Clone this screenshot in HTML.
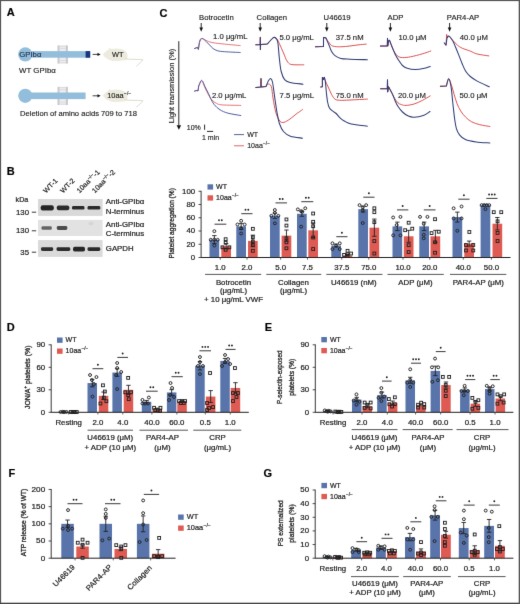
<!DOCTYPE html><html><head><meta charset="utf-8"><title>Figure</title><style>html,body{margin:0;padding:0;background:#fff;}body{width:520px;height:604px;overflow:hidden;font-family:"Liberation Sans",sans-serif;}svg{display:block;}text{font-family:"Liberation Sans",sans-serif;stroke:#222;stroke-width:0.20px;}text.b{stroke:#2a2a2a;stroke-width:0.32px;}.n text{stroke-width:0.14px;}</style></head><body><svg width="520" height="604" viewBox="0 0 520 604" font-family="Liberation Sans, sans-serif" font-size="7" fill="#222">
<rect x="0.00" y="0.00" width="520.00" height="604.00" fill="#fff"/>
<defs><filter id="soft" filterUnits="userSpaceOnUse" x="0" y="0" width="520" height="604" color-interpolation-filters="sRGB"><feConvolveMatrix order="3" kernelMatrix="0.00524 0.06192 0.00524 0.06192 0.73137 0.06192 0.00524 0.06192 0.00524" edgeMode="duplicate" preserveAlpha="true"/></filter></defs>
<g filter="url(#soft)">
<rect x="0.00" y="0.00" width="520.00" height="604.00" fill="#fff"/>
<text font-weight="bold" fill="#000" font-size="11.0" transform="translate(6.70 15.90) scale(1.0 1)">A</text>
<text font-weight="bold" fill="#000" font-size="11.0" transform="translate(159.60 16.80) scale(1.0 1)">C</text>
<text font-weight="bold" fill="#000" font-size="11.0" transform="translate(6.80 174.90) scale(1.0 1)">B</text>
<text font-weight="bold" fill="#000" font-size="11.0" transform="translate(6.70 330.60) scale(1.0 1)">D</text>
<text font-weight="bold" fill="#000" font-size="11.0" transform="translate(264.80 330.60) scale(1.0 1)">E</text>
<text font-weight="bold" fill="#000" font-size="11.0" transform="translate(8.60 476.60) scale(1.0 1)">F</text>
<text font-weight="bold" fill="#000" font-size="11.0" transform="translate(263.40 476.80) scale(1.0 1)">G</text>
<g class="n">
<rect x="59.60" y="45.40" width="6.20" height="18.20" fill="#eeeef0"/>
<line x1="59.60" y1="46.20" x2="65.80" y2="46.20" stroke="#d2d2d6" stroke-width="0.7"/>
<line x1="59.60" y1="48.40" x2="65.80" y2="48.40" stroke="#d2d2d6" stroke-width="0.7"/>
<line x1="59.60" y1="60.60" x2="65.80" y2="60.60" stroke="#d2d2d6" stroke-width="0.7"/>
<line x1="59.60" y1="62.80" x2="65.80" y2="62.80" stroke="#d2d2d6" stroke-width="0.7"/>
<rect x="57.50" y="45.40" width="2.10" height="18.20" fill="#c9c9cd"/>
<rect x="65.80" y="45.40" width="2.10" height="18.20" fill="#c9c9cd"/>
<rect x="25.00" y="51.10" width="65.20" height="6.60" fill="#93bedb"/>
<circle cx="25.3" cy="54.4" r="7.1" fill="#93bedb"/>
<rect x="85.60" y="51.10" width="4.60" height="6.60" fill="#1a3580"/>
<line x1="92.60" y1="54.40" x2="98.20" y2="54.40" stroke="#111" stroke-width="0.8"/>
<path d="M97.5 52.8 L100.6 54.4 L97.5 56.0 Z" stroke="none" stroke-width="1" fill="#111"/>
<text fill="#1d3d66" font-size="7.5" transform="translate(19.30 57.20) scale(1.03 1)">GPIbα</text>
<g transform="translate(102.80 54.60)"><path d="M0 0 C1.5 -1.8 4 -4.2 6.2 -5 L5.8 -6.9 L8.8 -5.6 C13 -6.6 19.5 -6.2 22.6 -3.6 C25.2 -1.4 25.4 3.2 23.6 5 C20.6 6.6 14 6.6 9 6.1 C5 5.6 2 3 0 0 Z" fill="#ecebdd"/><path d="M22.5 4.2 C28 5.2 34.5 4.4 40.2 5.2 C38.6 7.2 36.4 9.2 33.8 11.4" fill="none" stroke="#dddccd" stroke-width="1.0" stroke-linecap="round"/></g>
<text font-size="7.4" transform="translate(112.00 57.10) scale(1.0 1)">WT</text>
<text font-size="7.5" transform="translate(19.10 72.60) scale(1.05 1)">WT GPIbα</text>
<rect x="59.60" y="86.80" width="6.20" height="18.20" fill="#eeeef0"/>
<line x1="59.60" y1="87.60" x2="65.80" y2="87.60" stroke="#d2d2d6" stroke-width="0.7"/>
<line x1="59.60" y1="89.80" x2="65.80" y2="89.80" stroke="#d2d2d6" stroke-width="0.7"/>
<line x1="59.60" y1="102.00" x2="65.80" y2="102.00" stroke="#d2d2d6" stroke-width="0.7"/>
<line x1="59.60" y1="104.20" x2="65.80" y2="104.20" stroke="#d2d2d6" stroke-width="0.7"/>
<rect x="57.50" y="86.80" width="2.10" height="18.20" fill="#c9c9cd"/>
<rect x="65.80" y="86.80" width="2.10" height="18.20" fill="#c9c9cd"/>
<rect x="25.00" y="92.50" width="60.60" height="6.60" fill="#93bedb"/>
<circle cx="25.3" cy="95.8" r="7.1" fill="#93bedb"/>
<line x1="92.60" y1="95.80" x2="98.20" y2="95.80" stroke="#111" stroke-width="0.8"/>
<path d="M97.5 94.2 L100.6 95.8 L97.5 97.4 Z" stroke="none" stroke-width="1" fill="#111"/>
<g transform="translate(102.80 95.60)"><path d="M0 0 C1.5 -1.8 4 -4.2 6.2 -5 L5.8 -6.9 L8.8 -5.6 C13 -6.6 19.5 -6.2 22.6 -3.6 C25.2 -1.4 25.4 3.2 23.6 5 C20.6 6.6 14 6.6 9 6.1 C5 5.6 2 3 0 0 Z" fill="#ecebdd"/><path d="M22.5 4.2 C28 5.2 34.5 4.4 40.2 5.2 C38.6 7.2 36.4 9.2 33.8 11.4" fill="none" stroke="#dddccd" stroke-width="1.0" stroke-linecap="round"/></g>
<text transform="translate(107.20 98.40) scale(1.0 1)" font-size="7.4">10aa<tspan font-size="5.03" dy="-3.11" dx="0.3">−/−</tspan></text>
<text font-size="7.6" transform="translate(20.00 115.50) scale(1.0 1)">Deletion of amino acids 709 to 718</text>
<text font-size="7.5" transform="translate(199.00 19.90) scale(1.03 1)">Botrocetin</text>
<text font-size="7.5" transform="translate(256.60 19.90) scale(1.03 1)">Collagen</text>
<text font-size="7.5" transform="translate(323.60 19.90) scale(1.03 1)">U46619</text>
<text font-size="7.5" transform="translate(387.60 19.90) scale(1.03 1)">ADP</text>
<text font-size="7.5" transform="translate(446.80 19.90) scale(1.03 1)">PAR4-AP</text>
<line x1="201.20" y1="23.00" x2="201.20" y2="28.30" stroke="#111" stroke-width="0.9"/>
<path d="M199.40 27.60 L201.20 31.80 L203.00 27.60 Z" stroke="none" stroke-width="1" fill="#111"/>
<line x1="260.20" y1="23.00" x2="260.20" y2="28.30" stroke="#111" stroke-width="0.9"/>
<path d="M258.40 27.60 L260.20 31.80 L262.00 27.60 Z" stroke="none" stroke-width="1" fill="#111"/>
<line x1="326.80" y1="23.00" x2="326.80" y2="28.30" stroke="#111" stroke-width="0.9"/>
<path d="M325.00 27.60 L326.80 31.80 L328.60 27.60 Z" stroke="none" stroke-width="1" fill="#111"/>
<line x1="390.40" y1="23.00" x2="390.40" y2="28.30" stroke="#111" stroke-width="0.9"/>
<path d="M388.60 27.60 L390.40 31.80 L392.20 27.60 Z" stroke="none" stroke-width="1" fill="#111"/>
<line x1="449.60" y1="23.00" x2="449.60" y2="28.30" stroke="#111" stroke-width="0.9"/>
<path d="M447.80 27.60 L449.60 31.80 L451.40 27.60 Z" stroke="none" stroke-width="1" fill="#111"/>
<text font-size="7.5" transform="translate(213.00 39.10) scale(1.03 1)">1.0 μg/mL</text>
<text font-size="7.5" transform="translate(279.40 40.10) scale(1.03 1)">5.0 μg/mL</text>
<text font-size="7.5" transform="translate(335.70 39.80) scale(1.03 1)">37.5 nM</text>
<text font-size="7.5" transform="translate(398.50 39.80) scale(1.03 1)">10.0 μM</text>
<text font-size="7.5" transform="translate(459.80 39.80) scale(1.03 1)">40.0 μM</text>
<text font-size="7.5" transform="translate(211.90 97.90) scale(1.03 1)">2.0 μg/mL</text>
<text font-size="7.5" transform="translate(279.60 98.40) scale(1.03 1)">7.5 μg/mL</text>
<text font-size="7.5" transform="translate(335.70 97.70) scale(1.03 1)">75.0 nM</text>
<text font-size="7.5" transform="translate(397.90 97.90) scale(1.03 1)">20.0 μM</text>
<text font-size="7.5" transform="translate(459.50 98.10) scale(1.03 1)">50.0 μM</text>
<path d="M194.60 48.50 L197.40 47.40 L198.40 49.40 L199.40 42.50 L200.40 39.40 C200.75 39.27 201.35 38.33 202.50 38.60 C203.65 38.87 205.55 40.32 207.30 41.00 C209.05 41.68 210.12 42.18 213.00 42.70 C215.88 43.22 220.07 43.62 224.60 44.10 C229.13 44.58 237.60 45.35 240.20 45.60" stroke="#e06666" stroke-width="0.9" fill="none" stroke-linejoin="round" stroke-linecap="round"/>
<path d="M194.60 48.50 L197.40 47.40 L198.40 49.40 L199.40 42.50 L200.40 39.40 C200.75 39.27 201.53 38.25 202.50 38.60 C203.47 38.95 205.02 40.43 206.20 41.50 C207.38 42.57 208.47 43.83 209.60 45.00 C210.73 46.17 211.65 47.53 213.00 48.50 C214.35 49.47 215.77 50.27 217.70 50.80 C219.63 51.33 220.85 51.42 224.60 51.70 C228.35 51.98 237.60 52.37 240.20 52.50" stroke="#46569a" stroke-width="0.95" fill="none" stroke-linejoin="round" stroke-linecap="round"/>
<path d="M194.60 91.10 L197.00 90.40 L198.00 91.00 L198.70 86.00 C198.85 85.70 199.18 85.03 199.60 84.20 C200.02 83.37 200.72 81.43 201.20 81.00 C201.68 80.57 201.87 80.47 202.50 81.60 C203.13 82.73 204.00 85.60 205.00 87.80 C206.00 90.00 207.35 92.77 208.50 94.80 C209.65 96.83 210.57 98.57 211.90 100.00 C213.23 101.43 214.77 102.58 216.50 103.40 C218.23 104.22 218.25 104.57 222.30 104.90 C226.35 105.23 237.72 105.32 240.80 105.40" stroke="#e06666" stroke-width="0.9" fill="none" stroke-linejoin="round" stroke-linecap="round"/>
<path d="M194.60 91.10 L197.00 90.40 L198.00 91.00 L198.70 86.00 C199.08 85.12 200.32 81.43 201.00 80.70 C201.68 79.97 202.13 80.60 202.80 81.60 C203.47 82.60 204.05 84.70 205.00 86.70 C205.95 88.70 207.53 91.58 208.50 93.60 C209.47 95.62 209.85 96.97 210.80 98.80 C211.75 100.63 212.67 102.77 214.20 104.60 C215.73 106.43 217.68 108.37 220.00 109.80 C222.32 111.23 224.63 112.25 228.10 113.20 C231.57 114.15 238.68 115.12 240.80 115.50" stroke="#46569a" stroke-width="0.95" fill="none" stroke-linejoin="round" stroke-linecap="round"/>
<path d="M255.80 44.80 L260.20 44.60 L260.30 37.20 L260.40 49.60 L260.60 44.60 L267.30 44.00 C267.83 43.42 269.43 41.58 270.50 40.50 C271.57 39.42 272.62 37.75 273.70 37.50 C274.78 37.25 275.95 37.75 277.00 39.00 C278.05 40.25 278.92 42.67 280.00 45.00 C281.08 47.33 282.33 50.33 283.50 53.00 C284.67 55.67 285.83 59.12 287.00 61.00 C288.17 62.88 289.00 63.67 290.50 64.30 C292.00 64.93 293.78 64.72 296.00 64.80 C298.22 64.88 302.50 64.80 303.80 64.80" stroke="#d94a4a" stroke-width="0.95" fill="none" stroke-linejoin="round" stroke-linecap="round"/>
<path d="M255.80 44.80 L260.20 44.60 L260.30 37.20 L260.40 49.60 L260.60 44.60 L267.30 44.00 C267.83 43.42 269.43 41.58 270.50 40.50 C271.57 39.42 272.75 37.82 273.70 37.50 C274.65 37.18 275.50 37.68 276.20 38.60 C276.90 39.52 277.37 39.63 277.90 43.00 C278.43 46.37 278.85 54.05 279.40 58.80 C279.95 63.55 280.33 68.03 281.20 71.50 C282.07 74.97 283.13 77.78 284.60 79.60 C286.07 81.42 286.93 81.63 290.00 82.40 C293.07 83.17 300.83 83.90 303.00 84.20" stroke="#2e3c74" stroke-width="1.05" fill="none" stroke-linejoin="round" stroke-linecap="round"/>
<path d="M255.80 87.50 L260.90 87.00 L261.00 78.60 L261.10 87.00 L266.00 86.50 C266.33 86.08 267.12 84.00 268.00 84.00 C268.88 84.00 270.47 84.17 271.30 86.50 C272.13 88.83 272.22 93.58 273.00 98.00 C273.78 102.42 274.83 109.13 276.00 113.00 C277.17 116.87 278.67 119.65 280.00 121.20 C281.33 122.75 282.33 122.67 284.00 122.30 C285.67 121.93 288.00 120.35 290.00 119.00 C292.00 117.65 293.92 115.77 296.00 114.20 C298.08 112.63 301.42 110.37 302.50 109.60" stroke="#d94a4a" stroke-width="0.95" fill="none" stroke-linejoin="round" stroke-linecap="round"/>
<path d="M255.80 87.50 L260.90 87.00 L261.00 78.60 L261.10 87.00 L266.00 86.50 C266.38 85.58 267.55 82.33 268.30 81.00 C269.05 79.67 269.80 78.33 270.50 78.50 C271.20 78.67 271.78 78.75 272.50 82.00 C273.22 85.25 274.03 92.83 274.80 98.00 C275.57 103.17 276.33 108.75 277.10 113.00 C277.87 117.25 278.33 120.42 279.40 123.50 C280.47 126.58 281.67 129.38 283.50 131.50 C285.33 133.62 287.23 135.08 290.40 136.20 C293.57 137.32 300.48 137.87 302.50 138.20" stroke="#2e3c74" stroke-width="1.05" fill="none" stroke-linejoin="round" stroke-linecap="round"/>
<path d="M315.50 46.80 L323.50 46.40 L323.50 37.60 L325.80 37.80 C326.38 38.67 328.13 41.62 329.30 43.00 C330.47 44.38 330.88 45.47 332.80 46.10 C334.72 46.73 337.93 46.82 340.80 46.80 C343.67 46.78 347.13 46.32 350.00 46.00 C352.87 45.68 355.30 45.22 358.00 44.90 C360.70 44.58 364.83 44.23 366.20 44.10" stroke="#d94a4a" stroke-width="0.95" fill="none" stroke-linejoin="round" stroke-linecap="round"/>
<path d="M315.50 46.80 L323.50 46.40 L323.50 37.60 L325.80 37.80 C326.38 39.13 328.33 43.50 329.30 45.80 C330.27 48.10 330.65 49.95 331.60 51.60 C332.55 53.25 333.47 54.55 335.00 55.70 C336.53 56.85 338.30 57.92 340.80 58.50 C343.30 59.08 345.57 59.00 350.00 59.20 C354.43 59.40 364.50 59.62 367.40 59.70" stroke="#2e3c74" stroke-width="1.05" fill="none" stroke-linejoin="round" stroke-linecap="round"/>
<path d="M320.70 87.00 L322.40 86.80 L322.40 77.40 L323.40 79.50 L324.20 77.20 C324.38 77.78 324.63 79.07 325.30 80.70 C325.97 82.33 327.15 84.70 328.20 87.00 C329.25 89.30 330.47 92.48 331.60 94.50 C332.73 96.52 333.65 98.13 335.00 99.10 C336.35 100.07 337.20 100.15 339.70 100.30 C342.20 100.45 345.38 100.20 350.00 100.00 C354.62 99.80 364.50 99.25 367.40 99.10" stroke="#d94a4a" stroke-width="0.95" fill="none" stroke-linejoin="round" stroke-linecap="round"/>
<path d="M320.70 87.00 L322.40 86.80 L322.40 77.40 L323.40 79.50 L324.20 77.20 C324.38 77.87 324.93 78.60 325.30 81.20 C325.67 83.80 326.02 89.33 326.40 92.80 C326.78 96.27 327.12 99.50 327.60 102.00 C328.08 104.50 328.43 106.27 329.30 107.80 C330.17 109.33 331.65 110.25 332.80 111.20 C333.95 112.15 335.05 112.43 336.20 113.50 C337.35 114.57 338.35 116.35 339.70 117.60 C341.05 118.85 342.38 119.95 344.30 121.00 C346.22 122.05 347.35 123.03 351.20 123.90 C355.05 124.77 364.70 125.82 367.40 126.20" stroke="#2e3c74" stroke-width="1.05" fill="none" stroke-linejoin="round" stroke-linecap="round"/>
<path d="M380.40 46.10 L387.30 46.00 L387.50 38.30 L387.80 46.00 L388.40 41.50 C388.58 41.32 388.97 39.68 389.50 40.40 C390.03 41.12 390.77 43.83 391.60 45.80 C392.43 47.77 393.45 50.47 394.50 52.20 C395.55 53.93 396.57 55.30 397.90 56.20 C399.23 57.10 400.38 57.50 402.50 57.60 C404.62 57.70 407.32 57.42 410.60 56.80 C413.88 56.18 418.83 54.87 422.20 53.90 C425.57 52.93 429.37 51.48 430.80 51.00" stroke="#d94a4a" stroke-width="0.95" fill="none" stroke-linejoin="round" stroke-linecap="round"/>
<path d="M380.40 46.10 L387.30 46.00 L387.50 38.30 L387.80 46.00 L388.40 41.50 C388.58 41.32 388.97 39.68 389.50 40.40 C390.03 41.12 390.68 43.55 391.60 45.80 C392.52 48.05 393.77 51.40 395.00 53.90 C396.23 56.40 397.75 58.87 399.00 60.80 C400.25 62.73 401.13 64.25 402.50 65.50 C403.87 66.75 405.08 67.63 407.20 68.30 C409.32 68.97 412.32 69.50 415.20 69.50 C418.08 69.50 422.00 68.82 424.50 68.30 C427.00 67.78 429.25 66.72 430.20 66.40" stroke="#2e3c74" stroke-width="1.05" fill="none" stroke-linejoin="round" stroke-linecap="round"/>
<path d="M380.60 88.80 L387.30 88.70 L387.50 79.80 L387.70 91.90 L388.50 86.70 C389.12 87.85 391.20 91.68 392.20 93.60 C393.20 95.52 393.55 96.67 394.50 98.20 C395.45 99.73 396.75 101.73 397.90 102.80 C399.05 103.87 400.05 104.17 401.40 104.60 C402.75 105.03 403.88 105.50 406.00 105.40 C408.12 105.30 411.40 104.82 414.10 104.00 C416.80 103.18 419.52 101.85 422.20 100.50 C424.88 99.15 428.87 96.67 430.20 95.90" stroke="#d94a4a" stroke-width="0.95" fill="none" stroke-linejoin="round" stroke-linecap="round"/>
<path d="M380.60 88.80 L387.30 88.70 L387.50 79.80 L387.70 91.90 L388.50 86.70 C389.12 87.85 391.12 91.30 392.20 93.60 C393.28 95.90 394.05 98.38 395.00 100.50 C395.95 102.62 396.65 104.38 397.90 106.30 C399.15 108.22 400.77 110.37 402.50 112.00 C404.23 113.63 406.37 115.22 408.30 116.10 C410.23 116.98 411.60 117.40 414.10 117.30 C416.60 117.20 420.65 116.47 423.30 115.50 C425.95 114.53 428.88 112.17 430.00 111.50" stroke="#2e3c74" stroke-width="1.05" fill="none" stroke-linejoin="round" stroke-linecap="round"/>
<path d="M444.30 43.00 L446.00 45.20 L446.70 34.40 L447.40 38.00 C447.67 37.68 448.07 35.65 449.00 36.10 C449.93 36.55 451.57 39.17 453.00 40.70 C454.43 42.23 456.07 44.05 457.60 45.30 C459.13 46.55 460.08 47.23 462.20 48.20 C464.32 49.17 467.80 50.13 470.30 51.10 C472.80 52.07 474.12 53.20 477.20 54.00 C480.28 54.80 486.87 55.58 488.80 55.90" stroke="#d94a4a" stroke-width="0.95" fill="none" stroke-linejoin="round" stroke-linecap="round"/>
<path d="M444.30 43.00 L446.00 45.20 L447.00 38.00 C447.33 37.68 448.00 35.55 449.00 36.10 C450.00 36.65 451.95 39.57 453.00 41.30 C454.05 43.03 454.33 44.20 455.30 46.50 C456.27 48.80 457.65 52.22 458.80 55.10 C459.95 57.98 461.05 61.10 462.20 63.80 C463.35 66.50 464.35 69.18 465.70 71.30 C467.05 73.42 468.38 74.87 470.30 76.50 C472.22 78.13 474.03 79.38 477.20 81.10 C480.37 82.82 487.28 85.85 489.30 86.80" stroke="#2e3c74" stroke-width="1.05" fill="none" stroke-linejoin="round" stroke-linecap="round"/>
<path d="M440.40 86.30 L446.40 86.00 C446.78 84.80 447.82 78.82 448.70 78.80 C449.58 78.78 450.80 83.32 451.70 85.90 C452.60 88.48 453.20 91.32 454.10 94.30 C455.00 97.28 456.00 101.02 457.10 103.80 C458.20 106.58 459.32 108.82 460.70 111.00 C462.08 113.18 463.62 115.12 465.40 116.90 C467.18 118.68 469.00 120.40 471.40 121.70 C473.80 123.00 476.72 123.90 479.80 124.70 C482.88 125.50 488.22 126.20 489.90 126.50" stroke="#d94a4a" stroke-width="0.95" fill="none" stroke-linejoin="round" stroke-linecap="round"/>
<path d="M440.40 86.30 L446.40 86.00 C446.78 84.80 447.92 78.62 448.70 78.80 C449.48 78.98 450.40 82.93 451.10 87.10 C451.80 91.27 452.30 98.43 452.90 103.80 C453.50 109.17 454.10 115.12 454.70 119.30 C455.30 123.48 455.70 126.32 456.50 128.90 C457.30 131.48 458.02 133.02 459.50 134.80 C460.98 136.58 462.62 138.40 465.40 139.60 C468.18 140.80 472.12 141.43 476.20 142.00 C480.28 142.57 487.62 142.83 489.90 143.00" stroke="#2e3c74" stroke-width="1.05" fill="none" stroke-linejoin="round" stroke-linecap="round"/>
<line x1="178.80" y1="41.20" x2="178.80" y2="125.50" stroke="#111" stroke-width="0.9"/>
<path d="M176.6 125.2 L178.85 129.7 L181.1 125.2 Z" stroke="none" stroke-width="1" fill="#111"/>
<text text-anchor="middle" font-size="7.4" transform="translate(174.10 86.00) rotate(-90) scale(1.017 1)">Light transmission (%)</text>
<text transform="translate(186.80 130.00) scale(1.0 1)">10%</text>
<line x1="204.60" y1="124.60" x2="204.60" y2="129.80" stroke="#111" stroke-width="0.9"/>
<line x1="207.00" y1="131.40" x2="213.20" y2="131.40" stroke="#111" stroke-width="0.9"/>
<text transform="translate(202.00 139.60) scale(1.0 1)">1 min</text>
<line x1="234.00" y1="134.60" x2="244.00" y2="134.60" stroke="#55639a" stroke-width="1.0"/>
<text transform="translate(247.20 136.90) scale(1.0 1)">WT</text>
<line x1="234.00" y1="145.80" x2="244.00" y2="145.80" stroke="#d86a6a" stroke-width="1.0"/>
<text transform="translate(247.20 147.80) scale(1.0 1)" font-size="7.0">10aa<tspan font-size="4.76" dy="-2.94" dx="0.3">−/−</tspan></text>
</g>
<text font-size="6.9" transform="translate(46.00 193.40) rotate(-45) scale(1.05 1)">WT-1</text>
<text font-size="6.9" transform="translate(63.00 193.40) rotate(-45) scale(1.05 1)">WT-2</text>
<text font-size="6.9" transform="translate(79.40 193.40) rotate(-45) scale(1.05 1)">10aa<tspan font-size="4.6" dy="-2.6">−/−</tspan><tspan dy="2.6">-1</tspan></text>
<text font-size="6.9" transform="translate(94.80 193.40) rotate(-45) scale(1.05 1)">10aa<tspan font-size="4.6" dy="-2.6">−/−</tspan><tspan dy="2.6">-2</tspan></text>
<defs><filter id="bl" x="-30%" y="-60%" width="160%" height="220%"><feGaussianBlur stdDeviation="0.55"/></filter></defs>
<rect x="38.00" y="199.00" width="64.60" height="16.90" fill="#d9d9d9"/>
<rect x="38.00" y="219.90" width="64.60" height="16.10" fill="#e2e2e2"/>
<rect x="38.00" y="240.10" width="64.60" height="16.80" fill="#dadada"/>
<rect x="40.70" y="205.20" width="13.10" height="5.20" rx="2.00" fill="#1e1e1e" opacity="0.95" filter="url(#bl)"/>
<rect x="56.80" y="205.40" width="12.50" height="4.80" rx="1.85" fill="#1e1e1e" opacity="0.92" filter="url(#bl)"/>
<rect x="72.00" y="206.00" width="12.50" height="3.60" rx="1.38" fill="#1e1e1e" opacity="0.92" filter="url(#bl)"/>
<rect x="87.50" y="206.00" width="12.80" height="3.60" rx="1.38" fill="#1e1e1e" opacity="0.92" filter="url(#bl)"/>
<rect x="41.50" y="226.30" width="10.30" height="3.40" rx="1.31" fill="#3a3a3a" opacity="0.75" filter="url(#bl)"/>
<rect x="56.80" y="226.10" width="10.50" height="3.80" rx="1.46" fill="#333" opacity="0.85" filter="url(#bl)"/>
<ellipse cx="91" cy="223.5" rx="2.5" ry="2" fill="#d6d6d6" filter="url(#bl)"/>
<rect x="41.00" y="247.30" width="12.20" height="3.60" rx="1.38" fill="#1e1e1e" opacity="0.9" filter="url(#bl)"/>
<rect x="56.50" y="247.20" width="13.80" height="3.80" rx="1.46" fill="#1e1e1e" opacity="0.92" filter="url(#bl)"/>
<rect x="73.00" y="246.80" width="12.00" height="4.60" rx="1.77" fill="#1e1e1e" opacity="0.95" filter="url(#bl)"/>
<rect x="87.50" y="247.20" width="12.80" height="3.80" rx="1.46" fill="#1e1e1e" opacity="0.92" filter="url(#bl)"/>
<text transform="translate(15.60 202.40) scale(1.02 1)">kDa</text>
<text text-anchor="end" transform="translate(29.00 214.60) scale(1.12 1)">130</text>
<line x1="31.80" y1="212.20" x2="36.20" y2="212.20" stroke="#222" stroke-width="0.9"/>
<text text-anchor="end" transform="translate(29.00 233.20) scale(1.12 1)">130</text>
<line x1="31.80" y1="230.80" x2="36.20" y2="230.80" stroke="#222" stroke-width="0.9"/>
<text text-anchor="end" transform="translate(29.00 254.60) scale(1.12 1)">35</text>
<line x1="31.80" y1="252.20" x2="36.20" y2="252.20" stroke="#222" stroke-width="0.9"/>
<text transform="translate(105.80 204.40) scale(1.12 1)">Anti-GPIbα</text>
<text transform="translate(105.80 214.00) scale(1.12 1)">N-terminus</text>
<text transform="translate(105.80 226.80) scale(1.12 1)">Anti-GPIbα</text>
<text transform="translate(105.80 236.40) scale(1.12 1)">C-terminus</text>
<text transform="translate(105.80 251.20) scale(1.12 1)">GAPDH</text>
<line x1="201.10" y1="190.85" x2="201.10" y2="257.90" stroke="#222" stroke-width="0.9"/>
<line x1="198.50" y1="257.50" x2="201.10" y2="257.50" stroke="#222" stroke-width="0.8"/>
<text text-anchor="end" transform="translate(195.10 259.95) scale(1.12 1)">0</text>
<line x1="198.50" y1="244.25" x2="201.10" y2="244.25" stroke="#222" stroke-width="0.8"/>
<text text-anchor="end" transform="translate(195.10 246.70) scale(1.12 1)">20</text>
<line x1="198.50" y1="231.00" x2="201.10" y2="231.00" stroke="#222" stroke-width="0.8"/>
<text text-anchor="end" transform="translate(195.10 233.45) scale(1.12 1)">40</text>
<line x1="198.50" y1="217.75" x2="201.10" y2="217.75" stroke="#222" stroke-width="0.8"/>
<text text-anchor="end" transform="translate(195.10 220.20) scale(1.12 1)">60</text>
<line x1="198.50" y1="204.50" x2="201.10" y2="204.50" stroke="#222" stroke-width="0.8"/>
<text text-anchor="end" transform="translate(195.10 206.95) scale(1.12 1)">80</text>
<line x1="198.50" y1="191.25" x2="201.10" y2="191.25" stroke="#222" stroke-width="0.8"/>
<text text-anchor="end" transform="translate(195.10 193.70) scale(1.12 1)">100</text>
<rect x="209.50" y="239.61" width="9.70" height="17.89" fill="#5874aa"/>
<line x1="214.35" y1="235.64" x2="214.35" y2="243.59" stroke="#222" stroke-width="0.9"/>
<line x1="212.15" y1="235.64" x2="216.55" y2="235.64" stroke="#222" stroke-width="0.9"/>
<line x1="212.15" y1="243.59" x2="216.55" y2="243.59" stroke="#222" stroke-width="0.9"/>
<circle cx="214.35" cy="231.20" r="1.45" fill="none" stroke="#222" stroke-width="0.95"/>
<circle cx="210.75" cy="239.81" r="1.45" fill="none" stroke="#222" stroke-width="0.95"/>
<circle cx="217.65" cy="239.81" r="1.45" fill="none" stroke="#222" stroke-width="0.95"/>
<circle cx="214.35" cy="245.57" r="1.45" fill="none" stroke="#222" stroke-width="0.95"/>
<circle cx="214.35" cy="239.61" r="1.45" fill="none" stroke="#222" stroke-width="0.95"/>
<rect x="221.30" y="246.24" width="9.70" height="11.26" fill="#df5a52"/>
<line x1="226.15" y1="243.59" x2="226.15" y2="248.89" stroke="#222" stroke-width="0.9"/>
<line x1="223.95" y1="243.59" x2="228.35" y2="243.59" stroke="#222" stroke-width="0.9"/>
<line x1="223.95" y1="248.89" x2="228.35" y2="248.89" stroke="#222" stroke-width="0.9"/>
<rect x="224.25" y="237.81" width="2.8" height="2.8" fill="none" stroke="#222" stroke-width="0.95"/>
<rect x="224.25" y="241.33" width="2.8" height="2.8" fill="none" stroke="#222" stroke-width="0.95"/>
<rect x="221.05" y="245.90" width="2.8" height="2.8" fill="none" stroke="#222" stroke-width="0.95"/>
<rect x="227.95" y="245.90" width="2.8" height="2.8" fill="none" stroke="#222" stroke-width="0.95"/>
<rect x="224.25" y="248.41" width="2.8" height="2.8" fill="none" stroke="#222" stroke-width="0.95"/>
<line x1="220.25" y1="257.50" x2="220.25" y2="259.70" stroke="#222" stroke-width="0.7"/>
<rect x="236.30" y="226.36" width="9.70" height="31.14" fill="#5874aa"/>
<line x1="241.15" y1="223.38" x2="241.15" y2="229.34" stroke="#222" stroke-width="0.9"/>
<line x1="238.95" y1="223.38" x2="243.35" y2="223.38" stroke="#222" stroke-width="0.9"/>
<line x1="238.95" y1="229.34" x2="243.35" y2="229.34" stroke="#222" stroke-width="0.9"/>
<circle cx="241.15" cy="220.80" r="1.45" fill="none" stroke="#222" stroke-width="0.95"/>
<circle cx="237.45" cy="224.51" r="1.45" fill="none" stroke="#222" stroke-width="0.95"/>
<circle cx="244.65" cy="224.51" r="1.45" fill="none" stroke="#222" stroke-width="0.95"/>
<circle cx="241.15" cy="228.35" r="1.45" fill="none" stroke="#222" stroke-width="0.95"/>
<circle cx="241.15" cy="233.52" r="1.45" fill="none" stroke="#222" stroke-width="0.95"/>
<rect x="248.00" y="240.94" width="9.70" height="16.56" fill="#df5a52"/>
<line x1="252.85" y1="235.17" x2="252.85" y2="246.70" stroke="#222" stroke-width="0.9"/>
<line x1="250.65" y1="235.17" x2="255.05" y2="235.17" stroke="#222" stroke-width="0.9"/>
<line x1="250.65" y1="246.70" x2="255.05" y2="246.70" stroke="#222" stroke-width="0.9"/>
<rect x="251.45" y="227.41" width="2.8" height="2.8" fill="none" stroke="#222" stroke-width="0.95"/>
<rect x="251.45" y="235.83" width="2.8" height="2.8" fill="none" stroke="#222" stroke-width="0.95"/>
<rect x="251.45" y="240.07" width="2.8" height="2.8" fill="none" stroke="#222" stroke-width="0.95"/>
<rect x="251.45" y="243.58" width="2.8" height="2.8" fill="none" stroke="#222" stroke-width="0.95"/>
<rect x="251.45" y="249.41" width="2.8" height="2.8" fill="none" stroke="#222" stroke-width="0.95"/>
<line x1="247.00" y1="257.50" x2="247.00" y2="259.70" stroke="#222" stroke-width="0.7"/>
<rect x="270.00" y="215.76" width="9.70" height="41.74" fill="#5874aa"/>
<line x1="274.85" y1="213.11" x2="274.85" y2="218.41" stroke="#222" stroke-width="0.9"/>
<line x1="272.65" y1="213.11" x2="277.05" y2="213.11" stroke="#222" stroke-width="0.9"/>
<line x1="272.65" y1="218.41" x2="277.05" y2="218.41" stroke="#222" stroke-width="0.9"/>
<circle cx="274.85" cy="210.00" r="1.45" fill="none" stroke="#222" stroke-width="0.95"/>
<circle cx="274.85" cy="212.91" r="1.45" fill="none" stroke="#222" stroke-width="0.95"/>
<circle cx="271.35" cy="215.83" r="1.45" fill="none" stroke="#222" stroke-width="0.95"/>
<circle cx="278.35" cy="215.83" r="1.45" fill="none" stroke="#222" stroke-width="0.95"/>
<circle cx="274.85" cy="223.31" r="1.45" fill="none" stroke="#222" stroke-width="0.95"/>
<rect x="281.60" y="235.64" width="9.70" height="21.86" fill="#df5a52"/>
<line x1="286.45" y1="230.01" x2="286.45" y2="241.27" stroke="#222" stroke-width="0.9"/>
<line x1="284.25" y1="230.01" x2="288.65" y2="230.01" stroke="#222" stroke-width="0.9"/>
<line x1="284.25" y1="241.27" x2="288.65" y2="241.27" stroke="#222" stroke-width="0.9"/>
<rect x="285.05" y="218.07" width="2.8" height="2.8" fill="none" stroke="#222" stroke-width="0.95"/>
<rect x="285.05" y="224.17" width="2.8" height="2.8" fill="none" stroke="#222" stroke-width="0.95"/>
<rect x="285.05" y="236.89" width="2.8" height="2.8" fill="none" stroke="#222" stroke-width="0.95"/>
<rect x="285.05" y="240.93" width="2.8" height="2.8" fill="none" stroke="#222" stroke-width="0.95"/>
<rect x="285.05" y="246.89" width="2.8" height="2.8" fill="none" stroke="#222" stroke-width="0.95"/>
<line x1="280.65" y1="257.50" x2="280.65" y2="259.70" stroke="#222" stroke-width="0.7"/>
<rect x="297.00" y="213.78" width="9.70" height="43.72" fill="#5874aa"/>
<line x1="301.85" y1="211.26" x2="301.85" y2="216.29" stroke="#222" stroke-width="0.9"/>
<line x1="299.65" y1="211.26" x2="304.05" y2="211.26" stroke="#222" stroke-width="0.9"/>
<line x1="299.65" y1="216.29" x2="304.05" y2="216.29" stroke="#222" stroke-width="0.9"/>
<circle cx="297.85" cy="209.40" r="1.45" fill="none" stroke="#222" stroke-width="0.95"/>
<circle cx="301.15" cy="211.19" r="1.45" fill="none" stroke="#222" stroke-width="0.95"/>
<circle cx="305.25" cy="208.28" r="1.45" fill="none" stroke="#222" stroke-width="0.95"/>
<circle cx="302.35" cy="211.79" r="1.45" fill="none" stroke="#222" stroke-width="0.95"/>
<circle cx="301.15" cy="226.69" r="1.45" fill="none" stroke="#222" stroke-width="0.95"/>
<rect x="308.30" y="230.34" width="9.70" height="27.16" fill="#df5a52"/>
<line x1="313.15" y1="223.05" x2="313.15" y2="237.62" stroke="#222" stroke-width="0.9"/>
<line x1="310.95" y1="223.05" x2="315.35" y2="223.05" stroke="#222" stroke-width="0.9"/>
<line x1="310.95" y1="237.62" x2="315.35" y2="237.62" stroke="#222" stroke-width="0.9"/>
<rect x="311.75" y="212.11" width="2.8" height="2.8" fill="none" stroke="#222" stroke-width="0.95"/>
<rect x="311.75" y="220.39" width="2.8" height="2.8" fill="none" stroke="#222" stroke-width="0.95"/>
<rect x="311.75" y="224.83" width="2.8" height="2.8" fill="none" stroke="#222" stroke-width="0.95"/>
<rect x="311.75" y="236.09" width="2.8" height="2.8" fill="none" stroke="#222" stroke-width="0.95"/>
<rect x="311.75" y="247.62" width="2.8" height="2.8" fill="none" stroke="#222" stroke-width="0.95"/>
<line x1="307.50" y1="257.50" x2="307.50" y2="259.70" stroke="#222" stroke-width="0.7"/>
<rect x="331.30" y="245.57" width="9.70" height="11.93" fill="#5874aa"/>
<line x1="336.15" y1="244.12" x2="336.15" y2="247.03" stroke="#222" stroke-width="0.9"/>
<line x1="333.95" y1="244.12" x2="338.35" y2="244.12" stroke="#222" stroke-width="0.9"/>
<line x1="333.95" y1="247.03" x2="338.35" y2="247.03" stroke="#222" stroke-width="0.9"/>
<circle cx="332.45" cy="243.32" r="1.45" fill="none" stroke="#222" stroke-width="0.95"/>
<circle cx="339.75" cy="243.32" r="1.45" fill="none" stroke="#222" stroke-width="0.95"/>
<circle cx="336.15" cy="245.57" r="1.45" fill="none" stroke="#222" stroke-width="0.95"/>
<circle cx="332.45" cy="249.09" r="1.45" fill="none" stroke="#222" stroke-width="0.95"/>
<circle cx="339.75" cy="249.09" r="1.45" fill="none" stroke="#222" stroke-width="0.95"/>
<rect x="342.50" y="255.51" width="9.70" height="1.99" fill="#df5a52"/>
<line x1="347.35" y1="254.58" x2="347.35" y2="256.44" stroke="#222" stroke-width="0.9"/>
<line x1="345.15" y1="254.58" x2="349.55" y2="254.58" stroke="#222" stroke-width="0.9"/>
<rect x="346.15" y="249.41" width="2.8" height="2.8" fill="none" stroke="#222" stroke-width="0.95"/>
<rect x="342.65" y="253.52" width="2.8" height="2.8" fill="none" stroke="#222" stroke-width="0.95"/>
<rect x="346.15" y="252.92" width="2.8" height="2.8" fill="none" stroke="#222" stroke-width="0.95"/>
<rect x="349.65" y="252.12" width="2.8" height="2.8" fill="none" stroke="#222" stroke-width="0.95"/>
<rect x="346.15" y="254.58" width="2.8" height="2.8" fill="none" stroke="#222" stroke-width="0.95"/>
<line x1="341.75" y1="257.50" x2="341.75" y2="259.70" stroke="#222" stroke-width="0.7"/>
<rect x="358.30" y="209.14" width="9.70" height="48.36" fill="#5874aa"/>
<line x1="363.15" y1="206.16" x2="363.15" y2="212.12" stroke="#222" stroke-width="0.9"/>
<line x1="360.95" y1="206.16" x2="365.35" y2="206.16" stroke="#222" stroke-width="0.9"/>
<line x1="360.95" y1="212.12" x2="365.35" y2="212.12" stroke="#222" stroke-width="0.9"/>
<circle cx="359.55" cy="205.16" r="1.45" fill="none" stroke="#222" stroke-width="0.95"/>
<circle cx="366.15" cy="205.16" r="1.45" fill="none" stroke="#222" stroke-width="0.95"/>
<circle cx="362.75" cy="207.42" r="1.45" fill="none" stroke="#222" stroke-width="0.95"/>
<circle cx="362.75" cy="210.33" r="1.45" fill="none" stroke="#222" stroke-width="0.95"/>
<circle cx="362.75" cy="223.05" r="1.45" fill="none" stroke="#222" stroke-width="0.95"/>
<rect x="369.50" y="227.69" width="9.70" height="29.81" fill="#df5a52"/>
<line x1="374.35" y1="219.07" x2="374.35" y2="236.30" stroke="#222" stroke-width="0.9"/>
<line x1="372.15" y1="219.07" x2="376.55" y2="219.07" stroke="#222" stroke-width="0.9"/>
<line x1="372.15" y1="236.30" x2="376.55" y2="236.30" stroke="#222" stroke-width="0.9"/>
<rect x="372.95" y="206.88" width="2.8" height="2.8" fill="none" stroke="#222" stroke-width="0.95"/>
<rect x="372.95" y="210.78" width="2.8" height="2.8" fill="none" stroke="#222" stroke-width="0.95"/>
<rect x="372.95" y="220.79" width="2.8" height="2.8" fill="none" stroke="#222" stroke-width="0.95"/>
<rect x="372.95" y="239.60" width="2.8" height="2.8" fill="none" stroke="#222" stroke-width="0.95"/>
<rect x="372.95" y="252.12" width="2.8" height="2.8" fill="none" stroke="#222" stroke-width="0.95"/>
<line x1="368.75" y1="257.50" x2="368.75" y2="259.70" stroke="#222" stroke-width="0.7"/>
<rect x="392.50" y="226.36" width="9.70" height="31.14" fill="#5874aa"/>
<line x1="397.35" y1="222.12" x2="397.35" y2="230.60" stroke="#222" stroke-width="0.9"/>
<line x1="395.15" y1="222.12" x2="399.55" y2="222.12" stroke="#222" stroke-width="0.9"/>
<line x1="395.15" y1="230.60" x2="399.55" y2="230.60" stroke="#222" stroke-width="0.9"/>
<circle cx="393.15" cy="217.49" r="1.45" fill="none" stroke="#222" stroke-width="0.95"/>
<circle cx="400.45" cy="216.89" r="1.45" fill="none" stroke="#222" stroke-width="0.95"/>
<circle cx="396.65" cy="225.04" r="1.45" fill="none" stroke="#222" stroke-width="0.95"/>
<circle cx="393.15" cy="235.37" r="1.45" fill="none" stroke="#222" stroke-width="0.95"/>
<circle cx="400.45" cy="235.37" r="1.45" fill="none" stroke="#222" stroke-width="0.95"/>
<rect x="403.80" y="236.30" width="9.70" height="21.20" fill="#df5a52"/>
<line x1="408.65" y1="230.34" x2="408.65" y2="242.26" stroke="#222" stroke-width="0.9"/>
<line x1="406.45" y1="230.34" x2="410.85" y2="230.34" stroke="#222" stroke-width="0.9"/>
<line x1="406.45" y1="242.26" x2="410.85" y2="242.26" stroke="#222" stroke-width="0.9"/>
<rect x="407.25" y="221.32" width="2.8" height="2.8" fill="none" stroke="#222" stroke-width="0.95"/>
<rect x="403.75" y="228.80" width="2.8" height="2.8" fill="none" stroke="#222" stroke-width="0.95"/>
<rect x="410.85" y="227.28" width="2.8" height="2.8" fill="none" stroke="#222" stroke-width="0.95"/>
<rect x="407.25" y="243.78" width="2.8" height="2.8" fill="none" stroke="#222" stroke-width="0.95"/>
<rect x="407.25" y="250.67" width="2.8" height="2.8" fill="none" stroke="#222" stroke-width="0.95"/>
<line x1="403.00" y1="257.50" x2="403.00" y2="259.70" stroke="#222" stroke-width="0.7"/>
<rect x="419.30" y="226.36" width="9.70" height="31.14" fill="#5874aa"/>
<line x1="424.15" y1="222.12" x2="424.15" y2="230.60" stroke="#222" stroke-width="0.9"/>
<line x1="421.95" y1="222.12" x2="426.35" y2="222.12" stroke="#222" stroke-width="0.9"/>
<line x1="421.95" y1="230.60" x2="426.35" y2="230.60" stroke="#222" stroke-width="0.9"/>
<circle cx="420.05" cy="216.89" r="1.45" fill="none" stroke="#222" stroke-width="0.95"/>
<circle cx="427.45" cy="216.89" r="1.45" fill="none" stroke="#222" stroke-width="0.95"/>
<circle cx="423.75" cy="223.78" r="1.45" fill="none" stroke="#222" stroke-width="0.95"/>
<circle cx="423.75" cy="234.78" r="1.45" fill="none" stroke="#222" stroke-width="0.95"/>
<circle cx="423.75" cy="238.29" r="1.45" fill="none" stroke="#222" stroke-width="0.95"/>
<rect x="430.50" y="236.30" width="9.70" height="21.20" fill="#df5a52"/>
<line x1="435.35" y1="230.34" x2="435.35" y2="242.26" stroke="#222" stroke-width="0.9"/>
<line x1="433.15" y1="230.34" x2="437.55" y2="230.34" stroke="#222" stroke-width="0.9"/>
<line x1="433.15" y1="242.26" x2="437.55" y2="242.26" stroke="#222" stroke-width="0.9"/>
<rect x="433.65" y="217.81" width="2.8" height="2.8" fill="none" stroke="#222" stroke-width="0.95"/>
<rect x="430.15" y="231.72" width="2.8" height="2.8" fill="none" stroke="#222" stroke-width="0.95"/>
<rect x="437.35" y="230.33" width="2.8" height="2.8" fill="none" stroke="#222" stroke-width="0.95"/>
<rect x="433.65" y="240.86" width="2.8" height="2.8" fill="none" stroke="#222" stroke-width="0.95"/>
<rect x="433.65" y="251.33" width="2.8" height="2.8" fill="none" stroke="#222" stroke-width="0.95"/>
<line x1="429.75" y1="257.50" x2="429.75" y2="259.70" stroke="#222" stroke-width="0.7"/>
<rect x="452.50" y="217.09" width="9.70" height="40.41" fill="#5874aa"/>
<line x1="457.35" y1="212.12" x2="457.35" y2="222.06" stroke="#222" stroke-width="0.9"/>
<line x1="455.15" y1="212.12" x2="459.55" y2="212.12" stroke="#222" stroke-width="0.9"/>
<line x1="455.15" y1="222.06" x2="459.55" y2="222.06" stroke="#222" stroke-width="0.9"/>
<circle cx="453.65" cy="208.28" r="1.45" fill="none" stroke="#222" stroke-width="0.95"/>
<circle cx="461.55" cy="206.49" r="1.45" fill="none" stroke="#222" stroke-width="0.95"/>
<circle cx="453.65" cy="218.41" r="1.45" fill="none" stroke="#222" stroke-width="0.95"/>
<circle cx="461.55" cy="218.41" r="1.45" fill="none" stroke="#222" stroke-width="0.95"/>
<circle cx="457.35" cy="230.80" r="1.45" fill="none" stroke="#222" stroke-width="0.95"/>
<rect x="464.30" y="243.59" width="9.70" height="13.91" fill="#df5a52"/>
<line x1="469.15" y1="241.07" x2="469.15" y2="246.11" stroke="#222" stroke-width="0.9"/>
<line x1="466.95" y1="241.07" x2="471.35" y2="241.07" stroke="#222" stroke-width="0.9"/>
<line x1="466.95" y1="246.11" x2="471.35" y2="246.11" stroke="#222" stroke-width="0.9"/>
<rect x="467.95" y="230.59" width="2.8" height="2.8" fill="none" stroke="#222" stroke-width="0.95"/>
<rect x="464.55" y="243.58" width="2.8" height="2.8" fill="none" stroke="#222" stroke-width="0.95"/>
<rect x="471.85" y="243.58" width="2.8" height="2.8" fill="none" stroke="#222" stroke-width="0.95"/>
<rect x="464.55" y="249.08" width="2.8" height="2.8" fill="none" stroke="#222" stroke-width="0.95"/>
<rect x="471.85" y="249.08" width="2.8" height="2.8" fill="none" stroke="#222" stroke-width="0.95"/>
<line x1="463.25" y1="257.50" x2="463.25" y2="259.70" stroke="#222" stroke-width="0.7"/>
<rect x="480.60" y="205.16" width="9.70" height="52.34" fill="#5874aa"/>
<line x1="485.45" y1="204.37" x2="485.45" y2="205.96" stroke="#222" stroke-width="0.9"/>
<line x1="483.25" y1="204.37" x2="487.65" y2="204.37" stroke="#222" stroke-width="0.9"/>
<circle cx="481.65" cy="205.16" r="1.45" fill="none" stroke="#222" stroke-width="0.95"/>
<circle cx="484.15" cy="205.16" r="1.45" fill="none" stroke="#222" stroke-width="0.95"/>
<circle cx="486.75" cy="205.16" r="1.45" fill="none" stroke="#222" stroke-width="0.95"/>
<circle cx="489.25" cy="205.16" r="1.45" fill="none" stroke="#222" stroke-width="0.95"/>
<circle cx="485.45" cy="209.14" r="1.45" fill="none" stroke="#222" stroke-width="0.95"/>
<rect x="492.50" y="223.71" width="9.70" height="33.79" fill="#df5a52"/>
<line x1="497.35" y1="217.49" x2="497.35" y2="229.94" stroke="#222" stroke-width="0.9"/>
<line x1="495.15" y1="217.49" x2="499.55" y2="217.49" stroke="#222" stroke-width="0.9"/>
<line x1="495.15" y1="229.94" x2="499.55" y2="229.94" stroke="#222" stroke-width="0.9"/>
<rect x="492.35" y="210.78" width="2.8" height="2.8" fill="none" stroke="#222" stroke-width="0.95"/>
<rect x="499.85" y="210.78" width="2.8" height="2.8" fill="none" stroke="#222" stroke-width="0.95"/>
<rect x="496.15" y="219.93" width="2.8" height="2.8" fill="none" stroke="#222" stroke-width="0.95"/>
<rect x="496.15" y="231.52" width="2.8" height="2.8" fill="none" stroke="#222" stroke-width="0.95"/>
<rect x="496.15" y="239.60" width="2.8" height="2.8" fill="none" stroke="#222" stroke-width="0.95"/>
<line x1="491.40" y1="257.50" x2="491.40" y2="259.70" stroke="#222" stroke-width="0.7"/>
<line x1="201.10" y1="257.50" x2="510.50" y2="257.50" stroke="#222" stroke-width="1.0"/>
<line x1="214.50" y1="224.20" x2="226.30" y2="224.20" stroke="#222" stroke-width="0.9"/>
<circle cx="219.00" cy="220.30" r="0.95" fill="#222"/>
<circle cx="221.80" cy="220.30" r="0.95" fill="#222"/>
<line x1="241.30" y1="213.70" x2="252.50" y2="213.70" stroke="#222" stroke-width="0.9"/>
<circle cx="245.50" cy="209.80" r="0.95" fill="#222"/>
<circle cx="248.30" cy="209.80" r="0.95" fill="#222"/>
<line x1="275.50" y1="202.90" x2="287.00" y2="202.90" stroke="#222" stroke-width="0.9"/>
<circle cx="279.85" cy="199.00" r="0.95" fill="#222"/>
<circle cx="282.65" cy="199.00" r="0.95" fill="#222"/>
<line x1="301.30" y1="201.70" x2="313.30" y2="201.70" stroke="#222" stroke-width="0.9"/>
<circle cx="305.90" cy="197.80" r="0.95" fill="#222"/>
<circle cx="308.70" cy="197.80" r="0.95" fill="#222"/>
<line x1="336.30" y1="236.70" x2="347.50" y2="236.70" stroke="#222" stroke-width="0.9"/>
<circle cx="341.90" cy="232.80" r="0.95" fill="#222"/>
<line x1="363.30" y1="197.20" x2="374.50" y2="197.20" stroke="#222" stroke-width="0.9"/>
<circle cx="368.90" cy="193.30" r="0.95" fill="#222"/>
<line x1="397.00" y1="209.90" x2="408.30" y2="209.90" stroke="#222" stroke-width="0.9"/>
<circle cx="402.65" cy="206.00" r="0.95" fill="#222"/>
<line x1="423.80" y1="209.90" x2="435.50" y2="209.90" stroke="#222" stroke-width="0.9"/>
<circle cx="429.65" cy="206.00" r="0.95" fill="#222"/>
<line x1="458.30" y1="199.20" x2="469.50" y2="199.20" stroke="#222" stroke-width="0.9"/>
<circle cx="463.90" cy="195.30" r="0.95" fill="#222"/>
<line x1="486.30" y1="198.40" x2="497.50" y2="198.40" stroke="#222" stroke-width="0.9"/>
<circle cx="489.10" cy="194.50" r="0.95" fill="#222"/>
<circle cx="491.90" cy="194.50" r="0.95" fill="#222"/>
<circle cx="494.70" cy="194.50" r="0.95" fill="#222"/>
<text text-anchor="middle" transform="translate(220.25 270.00) scale(1.12 1)">1.0</text>
<text text-anchor="middle" transform="translate(247.00 270.00) scale(1.12 1)">2.0</text>
<text text-anchor="middle" transform="translate(280.65 270.00) scale(1.12 1)">5.0</text>
<text text-anchor="middle" transform="translate(307.50 270.00) scale(1.12 1)">7.5</text>
<text text-anchor="middle" transform="translate(341.75 270.00) scale(1.12 1)">37.5</text>
<text text-anchor="middle" transform="translate(368.75 270.00) scale(1.12 1)">75.0</text>
<text text-anchor="middle" transform="translate(403.00 270.00) scale(1.12 1)">10.0</text>
<text text-anchor="middle" transform="translate(429.75 270.00) scale(1.12 1)">20.0</text>
<text text-anchor="middle" transform="translate(463.25 270.00) scale(1.12 1)">40.0</text>
<text text-anchor="middle" transform="translate(491.40 270.00) scale(1.12 1)">50.0</text>
<line x1="205.10" y1="274.40" x2="261.20" y2="274.40" stroke="#444" stroke-width="0.9"/>
<line x1="266.30" y1="274.40" x2="321.30" y2="274.40" stroke="#444" stroke-width="0.9"/>
<line x1="326.30" y1="274.40" x2="382.50" y2="274.40" stroke="#444" stroke-width="0.9"/>
<line x1="387.50" y1="274.40" x2="443.80" y2="274.40" stroke="#444" stroke-width="0.9"/>
<line x1="450.00" y1="274.40" x2="506.30" y2="274.40" stroke="#444" stroke-width="0.9"/>
<text text-anchor="middle" transform="translate(233.50 284.80) scale(1.12 1)">Botrocetin</text>
<text text-anchor="middle" transform="translate(233.50 293.20) scale(1.12 1)">(μg/mL)</text>
<text text-anchor="middle" transform="translate(233.50 301.60) scale(1.12 1)">+ 10 μg/mL VWF</text>
<text text-anchor="middle" transform="translate(293.50 284.80) scale(1.12 1)">Collagen</text>
<text text-anchor="middle" transform="translate(293.50 293.20) scale(1.12 1)">(μg/mL)</text>
<text text-anchor="middle" transform="translate(353.80 284.80) scale(1.12 1)">U46619 (nM)</text>
<text text-anchor="middle" transform="translate(415.50 284.80) scale(1.12 1)">ADP (μM)</text>
<text text-anchor="middle" transform="translate(478.30 284.80) scale(1.12 1)">PAR4-AP (μM)</text>
<rect x="207.50" y="184.30" width="5.60" height="5.30" fill="#5874aa"/>
<text transform="translate(216.10 188.90) scale(1.0 1)">WT</text>
<rect x="207.50" y="195.30" width="5.60" height="5.30" fill="#df5a52"/>
<text transform="translate(216.10 200.10) scale(1.0 1)" font-size="7.0">10aa<tspan font-size="4.76" dy="-2.94" dx="0.3">−/−</tspan></text>
<text text-anchor="middle" font-size="7.6" transform="translate(174.40 223.40) rotate(-90) scale(0.866 1)" class="b">Platelet aggregation (%)</text>
<line x1="51.20" y1="344.40" x2="51.20" y2="412.70" stroke="#222" stroke-width="0.9"/>
<line x1="48.60" y1="412.30" x2="51.20" y2="412.30" stroke="#222" stroke-width="0.8"/>
<text text-anchor="end" transform="translate(45.10 414.75) scale(1.12 1)">0</text>
<line x1="48.60" y1="389.80" x2="51.20" y2="389.80" stroke="#222" stroke-width="0.8"/>
<text text-anchor="end" transform="translate(45.10 392.25) scale(1.12 1)">30</text>
<line x1="48.60" y1="367.30" x2="51.20" y2="367.30" stroke="#222" stroke-width="0.8"/>
<text text-anchor="end" transform="translate(45.10 369.75) scale(1.12 1)">60</text>
<line x1="48.60" y1="344.80" x2="51.20" y2="344.80" stroke="#222" stroke-width="0.8"/>
<text text-anchor="end" transform="translate(45.10 347.25) scale(1.12 1)">90</text>
<rect x="58.80" y="411.85" width="9.50" height="0.45" fill="#5874aa"/>
<circle cx="60.55" cy="412.00" r="1.45" fill="none" stroke="#222" stroke-width="0.95"/>
<circle cx="62.55" cy="411.85" r="1.45" fill="none" stroke="#222" stroke-width="0.95"/>
<circle cx="64.55" cy="412.00" r="1.45" fill="none" stroke="#222" stroke-width="0.95"/>
<circle cx="66.55" cy="411.93" r="1.45" fill="none" stroke="#222" stroke-width="0.95"/>
<circle cx="63.55" cy="412.00" r="1.45" fill="none" stroke="#222" stroke-width="0.95"/>
<rect x="69.00" y="411.93" width="9.50" height="0.38" fill="#df5a52"/>
<rect x="69.35" y="410.60" width="2.8" height="2.8" fill="none" stroke="#222" stroke-width="0.95"/>
<rect x="71.35" y="410.53" width="2.8" height="2.8" fill="none" stroke="#222" stroke-width="0.95"/>
<rect x="73.35" y="410.60" width="2.8" height="2.8" fill="none" stroke="#222" stroke-width="0.95"/>
<rect x="75.35" y="410.60" width="2.8" height="2.8" fill="none" stroke="#222" stroke-width="0.95"/>
<rect x="72.35" y="410.60" width="2.8" height="2.8" fill="none" stroke="#222" stroke-width="0.95"/>
<line x1="68.65" y1="412.30" x2="68.65" y2="414.50" stroke="#222" stroke-width="0.7"/>
<rect x="87.50" y="383.05" width="9.50" height="29.25" fill="#5874aa"/>
<line x1="92.25" y1="379.30" x2="92.25" y2="386.80" stroke="#222" stroke-width="0.9"/>
<line x1="90.05" y1="379.30" x2="94.45" y2="379.30" stroke="#222" stroke-width="0.9"/>
<line x1="90.05" y1="386.80" x2="94.45" y2="386.80" stroke="#222" stroke-width="0.9"/>
<circle cx="90.05" cy="375.02" r="1.45" fill="none" stroke="#222" stroke-width="0.95"/>
<circle cx="96.45" cy="377.05" r="1.45" fill="none" stroke="#222" stroke-width="0.95"/>
<circle cx="93.95" cy="384.03" r="1.45" fill="none" stroke="#222" stroke-width="0.95"/>
<circle cx="92.45" cy="396.55" r="1.45" fill="none" stroke="#222" stroke-width="0.95"/>
<circle cx="91.95" cy="380.05" r="1.45" fill="none" stroke="#222" stroke-width="0.95"/>
<rect x="98.80" y="395.80" width="9.50" height="16.50" fill="#df5a52"/>
<line x1="103.55" y1="392.05" x2="103.55" y2="399.55" stroke="#222" stroke-width="0.9"/>
<line x1="101.35" y1="392.05" x2="105.75" y2="392.05" stroke="#222" stroke-width="0.9"/>
<line x1="101.35" y1="399.55" x2="105.75" y2="399.55" stroke="#222" stroke-width="0.9"/>
<rect x="101.55" y="383.90" width="2.8" height="2.8" fill="none" stroke="#222" stroke-width="0.95"/>
<rect x="103.45" y="390.13" width="2.8" height="2.8" fill="none" stroke="#222" stroke-width="0.95"/>
<rect x="99.05" y="402.13" width="2.8" height="2.8" fill="none" stroke="#222" stroke-width="0.95"/>
<rect x="104.95" y="399.80" width="2.8" height="2.8" fill="none" stroke="#222" stroke-width="0.95"/>
<rect x="102.45" y="396.28" width="2.8" height="2.8" fill="none" stroke="#222" stroke-width="0.95"/>
<line x1="97.90" y1="412.30" x2="97.90" y2="414.50" stroke="#222" stroke-width="0.7"/>
<rect x="112.40" y="372.55" width="9.50" height="39.75" fill="#5874aa"/>
<line x1="117.15" y1="368.80" x2="117.15" y2="376.30" stroke="#222" stroke-width="0.9"/>
<line x1="114.95" y1="368.80" x2="119.35" y2="368.80" stroke="#222" stroke-width="0.9"/>
<line x1="114.95" y1="376.30" x2="119.35" y2="376.30" stroke="#222" stroke-width="0.9"/>
<circle cx="117.15" cy="363.02" r="1.45" fill="none" stroke="#222" stroke-width="0.95"/>
<circle cx="117.15" cy="368.05" r="1.45" fill="none" stroke="#222" stroke-width="0.95"/>
<circle cx="116.15" cy="375.02" r="1.45" fill="none" stroke="#222" stroke-width="0.95"/>
<circle cx="121.15" cy="372.02" r="1.45" fill="none" stroke="#222" stroke-width="0.95"/>
<circle cx="117.15" cy="389.05" r="1.45" fill="none" stroke="#222" stroke-width="0.95"/>
<rect x="123.70" y="389.80" width="9.50" height="22.50" fill="#df5a52"/>
<line x1="128.45" y1="385.30" x2="128.45" y2="394.30" stroke="#222" stroke-width="0.9"/>
<line x1="126.25" y1="385.30" x2="130.65" y2="385.30" stroke="#222" stroke-width="0.9"/>
<line x1="126.25" y1="394.30" x2="130.65" y2="394.30" stroke="#222" stroke-width="0.9"/>
<rect x="126.75" y="376.48" width="2.8" height="2.8" fill="none" stroke="#222" stroke-width="0.95"/>
<rect x="123.85" y="390.88" width="2.8" height="2.8" fill="none" stroke="#222" stroke-width="0.95"/>
<rect x="129.65" y="390.88" width="2.8" height="2.8" fill="none" stroke="#222" stroke-width="0.95"/>
<rect x="127.35" y="397.78" width="2.8" height="2.8" fill="none" stroke="#222" stroke-width="0.95"/>
<rect x="126.85" y="393.65" width="2.8" height="2.8" fill="none" stroke="#222" stroke-width="0.95"/>
<line x1="122.80" y1="412.30" x2="122.80" y2="414.50" stroke="#222" stroke-width="0.7"/>
<rect x="141.80" y="401.80" width="9.50" height="10.50" fill="#5874aa"/>
<line x1="146.55" y1="400.45" x2="146.55" y2="403.15" stroke="#222" stroke-width="0.9"/>
<line x1="144.35" y1="400.45" x2="148.75" y2="400.45" stroke="#222" stroke-width="0.9"/>
<line x1="144.35" y1="403.15" x2="148.75" y2="403.15" stroke="#222" stroke-width="0.9"/>
<circle cx="142.45" cy="399.93" r="1.45" fill="none" stroke="#222" stroke-width="0.95"/>
<circle cx="148.85" cy="397.53" r="1.45" fill="none" stroke="#222" stroke-width="0.95"/>
<circle cx="142.45" cy="403.53" r="1.45" fill="none" stroke="#222" stroke-width="0.95"/>
<circle cx="148.05" cy="403.53" r="1.45" fill="none" stroke="#222" stroke-width="0.95"/>
<circle cx="145.05" cy="403.53" r="1.45" fill="none" stroke="#222" stroke-width="0.95"/>
<rect x="152.50" y="409.30" width="9.50" height="3.00" fill="#df5a52"/>
<line x1="157.25" y1="408.18" x2="157.25" y2="410.43" stroke="#222" stroke-width="0.9"/>
<line x1="155.05" y1="408.18" x2="159.45" y2="408.18" stroke="#222" stroke-width="0.9"/>
<rect x="152.65" y="406.40" width="2.8" height="2.8" fill="none" stroke="#222" stroke-width="0.95"/>
<rect x="159.05" y="406.40" width="2.8" height="2.8" fill="none" stroke="#222" stroke-width="0.95"/>
<rect x="153.85" y="408.65" width="2.8" height="2.8" fill="none" stroke="#222" stroke-width="0.95"/>
<rect x="156.35" y="409.03" width="2.8" height="2.8" fill="none" stroke="#222" stroke-width="0.95"/>
<rect x="158.65" y="409.40" width="2.8" height="2.8" fill="none" stroke="#222" stroke-width="0.95"/>
<line x1="151.90" y1="412.30" x2="151.90" y2="414.50" stroke="#222" stroke-width="0.7"/>
<rect x="166.90" y="392.43" width="9.50" height="19.88" fill="#5874aa"/>
<line x1="171.65" y1="389.65" x2="171.65" y2="395.20" stroke="#222" stroke-width="0.9"/>
<line x1="169.45" y1="389.65" x2="173.85" y2="389.65" stroke="#222" stroke-width="0.9"/>
<line x1="169.45" y1="395.20" x2="173.85" y2="395.20" stroke="#222" stroke-width="0.9"/>
<circle cx="170.55" cy="383.05" r="1.45" fill="none" stroke="#222" stroke-width="0.95"/>
<circle cx="172.05" cy="388.00" r="1.45" fill="none" stroke="#222" stroke-width="0.95"/>
<circle cx="170.05" cy="395.05" r="1.45" fill="none" stroke="#222" stroke-width="0.95"/>
<circle cx="174.05" cy="397.00" r="1.45" fill="none" stroke="#222" stroke-width="0.95"/>
<circle cx="169.05" cy="400.00" r="1.45" fill="none" stroke="#222" stroke-width="0.95"/>
<rect x="177.30" y="401.35" width="9.50" height="10.95" fill="#df5a52"/>
<line x1="182.05" y1="400.60" x2="182.05" y2="402.10" stroke="#222" stroke-width="0.9"/>
<line x1="179.85" y1="400.60" x2="184.25" y2="400.60" stroke="#222" stroke-width="0.9"/>
<rect x="177.65" y="399.65" width="2.8" height="2.8" fill="none" stroke="#222" stroke-width="0.95"/>
<rect x="180.65" y="399.65" width="2.8" height="2.8" fill="none" stroke="#222" stroke-width="0.95"/>
<rect x="183.65" y="399.65" width="2.8" height="2.8" fill="none" stroke="#222" stroke-width="0.95"/>
<rect x="179.45" y="401.60" width="2.8" height="2.8" fill="none" stroke="#222" stroke-width="0.95"/>
<rect x="182.45" y="401.60" width="2.8" height="2.8" fill="none" stroke="#222" stroke-width="0.95"/>
<line x1="176.85" y1="412.30" x2="176.85" y2="414.50" stroke="#222" stroke-width="0.7"/>
<rect x="195.20" y="365.80" width="9.50" height="46.50" fill="#5874aa"/>
<line x1="199.95" y1="361.60" x2="199.95" y2="370.00" stroke="#222" stroke-width="0.9"/>
<line x1="197.75" y1="361.60" x2="202.15" y2="361.60" stroke="#222" stroke-width="0.9"/>
<line x1="197.75" y1="370.00" x2="202.15" y2="370.00" stroke="#222" stroke-width="0.9"/>
<circle cx="199.95" cy="357.02" r="1.45" fill="none" stroke="#222" stroke-width="0.95"/>
<circle cx="199.95" cy="362.05" r="1.45" fill="none" stroke="#222" stroke-width="0.95"/>
<circle cx="197.95" cy="366.02" r="1.45" fill="none" stroke="#222" stroke-width="0.95"/>
<circle cx="202.95" cy="366.02" r="1.45" fill="none" stroke="#222" stroke-width="0.95"/>
<circle cx="199.95" cy="374.05" r="1.45" fill="none" stroke="#222" stroke-width="0.95"/>
<rect x="205.90" y="396.55" width="9.50" height="15.75" fill="#df5a52"/>
<line x1="210.65" y1="390.62" x2="210.65" y2="402.48" stroke="#222" stroke-width="0.9"/>
<line x1="208.45" y1="390.62" x2="212.85" y2="390.62" stroke="#222" stroke-width="0.9"/>
<line x1="208.45" y1="402.48" x2="212.85" y2="402.48" stroke="#222" stroke-width="0.9"/>
<rect x="208.65" y="371.60" width="2.8" height="2.8" fill="none" stroke="#222" stroke-width="0.95"/>
<rect x="205.65" y="401.60" width="2.8" height="2.8" fill="none" stroke="#222" stroke-width="0.95"/>
<rect x="211.65" y="405.65" width="2.8" height="2.8" fill="none" stroke="#222" stroke-width="0.95"/>
<rect x="207.65" y="406.63" width="2.8" height="2.8" fill="none" stroke="#222" stroke-width="0.95"/>
<rect x="205.65" y="408.65" width="2.8" height="2.8" fill="none" stroke="#222" stroke-width="0.95"/>
<line x1="205.30" y1="412.30" x2="205.30" y2="414.50" stroke="#222" stroke-width="0.7"/>
<rect x="220.30" y="360.93" width="9.50" height="51.38" fill="#5874aa"/>
<line x1="225.05" y1="358.45" x2="225.05" y2="363.40" stroke="#222" stroke-width="0.9"/>
<line x1="222.85" y1="358.45" x2="227.25" y2="358.45" stroke="#222" stroke-width="0.9"/>
<line x1="222.85" y1="363.40" x2="227.25" y2="363.40" stroke="#222" stroke-width="0.9"/>
<circle cx="225.05" cy="355.00" r="1.45" fill="none" stroke="#222" stroke-width="0.95"/>
<circle cx="228.05" cy="359.05" r="1.45" fill="none" stroke="#222" stroke-width="0.95"/>
<circle cx="222.05" cy="366.02" r="1.45" fill="none" stroke="#222" stroke-width="0.95"/>
<circle cx="230.05" cy="364.00" r="1.45" fill="none" stroke="#222" stroke-width="0.95"/>
<circle cx="225.05" cy="362.05" r="1.45" fill="none" stroke="#222" stroke-width="0.95"/>
<rect x="230.70" y="387.93" width="9.50" height="24.38" fill="#df5a52"/>
<line x1="235.45" y1="382.68" x2="235.45" y2="393.18" stroke="#222" stroke-width="0.9"/>
<line x1="233.25" y1="382.68" x2="237.65" y2="382.68" stroke="#222" stroke-width="0.9"/>
<line x1="233.25" y1="393.18" x2="237.65" y2="393.18" stroke="#222" stroke-width="0.9"/>
<rect x="233.55" y="366.65" width="2.8" height="2.8" fill="none" stroke="#222" stroke-width="0.95"/>
<rect x="231.55" y="391.63" width="2.8" height="2.8" fill="none" stroke="#222" stroke-width="0.95"/>
<rect x="236.55" y="391.63" width="2.8" height="2.8" fill="none" stroke="#222" stroke-width="0.95"/>
<rect x="231.55" y="399.65" width="2.8" height="2.8" fill="none" stroke="#222" stroke-width="0.95"/>
<rect x="235.05" y="395.60" width="2.8" height="2.8" fill="none" stroke="#222" stroke-width="0.95"/>
<line x1="230.25" y1="412.30" x2="230.25" y2="414.50" stroke="#222" stroke-width="0.7"/>
<line x1="51.20" y1="412.30" x2="248.80" y2="412.30" stroke="#222" stroke-width="1.0"/>
<line x1="92.50" y1="368.70" x2="103.30" y2="368.70" stroke="#222" stroke-width="0.9"/>
<circle cx="97.90" cy="364.80" r="0.95" fill="#222"/>
<line x1="117.30" y1="357.40" x2="128.00" y2="357.40" stroke="#222" stroke-width="0.9"/>
<circle cx="122.65" cy="353.50" r="0.95" fill="#222"/>
<line x1="146.00" y1="391.20" x2="157.70" y2="391.20" stroke="#222" stroke-width="0.9"/>
<circle cx="150.45" cy="387.30" r="0.95" fill="#222"/>
<circle cx="153.25" cy="387.30" r="0.95" fill="#222"/>
<line x1="171.50" y1="376.70" x2="182.80" y2="376.70" stroke="#222" stroke-width="0.9"/>
<circle cx="175.75" cy="372.80" r="0.95" fill="#222"/>
<circle cx="178.55" cy="372.80" r="0.95" fill="#222"/>
<line x1="199.50" y1="350.80" x2="211.00" y2="350.80" stroke="#222" stroke-width="0.9"/>
<circle cx="202.45" cy="346.90" r="0.95" fill="#222"/>
<circle cx="205.25" cy="346.90" r="0.95" fill="#222"/>
<circle cx="208.05" cy="346.90" r="0.95" fill="#222"/>
<line x1="225.50" y1="349.40" x2="235.60" y2="349.40" stroke="#222" stroke-width="0.9"/>
<circle cx="229.15" cy="345.50" r="0.95" fill="#222"/>
<circle cx="231.95" cy="345.50" r="0.95" fill="#222"/>
<text text-anchor="middle" transform="translate(68.65 425.00) scale(1.12 1)">Resting</text>
<text text-anchor="middle" transform="translate(97.90 425.00) scale(1.12 1)">2.0</text>
<text text-anchor="middle" transform="translate(122.80 425.00) scale(1.12 1)">4.0</text>
<text text-anchor="middle" transform="translate(151.90 425.00) scale(1.12 1)">40.0</text>
<text text-anchor="middle" transform="translate(176.85 425.00) scale(1.12 1)">60.0</text>
<text text-anchor="middle" transform="translate(205.30 425.00) scale(1.12 1)">0.5</text>
<text text-anchor="middle" transform="translate(230.25 425.00) scale(1.12 1)">1.0</text>
<line x1="87.60" y1="430.20" x2="133.00" y2="430.20" stroke="#444" stroke-width="0.9"/>
<line x1="139.50" y1="430.20" x2="188.00" y2="430.20" stroke="#444" stroke-width="0.9"/>
<line x1="193.30" y1="430.20" x2="241.30" y2="430.20" stroke="#444" stroke-width="0.9"/>
<text text-anchor="middle" transform="translate(110.30 440.00) scale(1.12 1)">U46619 (μM)</text>
<text text-anchor="middle" transform="translate(110.30 449.60) scale(1.12 1)">+ ADP (10 μM)</text>
<text text-anchor="middle" transform="translate(162.50 440.00) scale(1.12 1)">PAR4-AP</text>
<text text-anchor="middle" transform="translate(162.50 449.60) scale(1.12 1)">(μM)</text>
<text text-anchor="middle" transform="translate(217.50 440.00) scale(1.12 1)">CRP</text>
<text text-anchor="middle" transform="translate(217.50 449.60) scale(1.12 1)">(μg/mL)</text>
<rect x="57.00" y="337.50" width="5.60" height="5.30" fill="#5874aa"/>
<text transform="translate(65.60 342.10) scale(1.0 1)">WT</text>
<rect x="57.00" y="348.50" width="5.60" height="5.30" fill="#df5a52"/>
<text transform="translate(65.60 353.30) scale(1.0 1)" font-size="7.0">10aa<tspan font-size="4.76" dy="-2.94" dx="0.3">−/−</tspan></text>
<text text-anchor="middle" font-size="7.6" transform="translate(30.00 377.30) rotate(-90) scale(0.915 1)" class="b">JON/A<tspan font-size="4.8" dy="-2.8">+</tspan><tspan dy="2.8"> platelets (%)</tspan></text>
<line x1="315.30" y1="344.40" x2="315.30" y2="412.70" stroke="#222" stroke-width="0.9"/>
<line x1="312.70" y1="412.30" x2="315.30" y2="412.30" stroke="#222" stroke-width="0.8"/>
<text text-anchor="end" transform="translate(309.10 414.75) scale(1.12 1)">0</text>
<line x1="312.70" y1="389.80" x2="315.30" y2="389.80" stroke="#222" stroke-width="0.8"/>
<text text-anchor="end" transform="translate(309.10 392.25) scale(1.12 1)">30</text>
<line x1="312.70" y1="367.30" x2="315.30" y2="367.30" stroke="#222" stroke-width="0.8"/>
<text text-anchor="end" transform="translate(309.10 369.75) scale(1.12 1)">60</text>
<line x1="312.70" y1="344.80" x2="315.30" y2="344.80" stroke="#222" stroke-width="0.8"/>
<text text-anchor="end" transform="translate(309.10 347.25) scale(1.12 1)">90</text>
<rect x="323.00" y="410.80" width="9.50" height="1.50" fill="#5874aa"/>
<line x1="327.75" y1="410.43" x2="327.75" y2="411.18" stroke="#222" stroke-width="0.9"/>
<line x1="325.55" y1="410.43" x2="329.95" y2="410.43" stroke="#222" stroke-width="0.9"/>
<circle cx="324.75" cy="410.43" r="1.45" fill="none" stroke="#222" stroke-width="0.95"/>
<circle cx="326.75" cy="411.18" r="1.45" fill="none" stroke="#222" stroke-width="0.95"/>
<circle cx="328.75" cy="410.80" r="1.45" fill="none" stroke="#222" stroke-width="0.95"/>
<circle cx="330.75" cy="411.40" r="1.45" fill="none" stroke="#222" stroke-width="0.95"/>
<circle cx="327.75" cy="411.70" r="1.45" fill="none" stroke="#222" stroke-width="0.95"/>
<rect x="333.60" y="411.55" width="9.50" height="0.75" fill="#df5a52"/>
<line x1="338.35" y1="411.32" x2="338.35" y2="411.78" stroke="#222" stroke-width="0.9"/>
<line x1="336.15" y1="411.32" x2="340.55" y2="411.32" stroke="#222" stroke-width="0.9"/>
<rect x="333.95" y="410.15" width="2.8" height="2.8" fill="none" stroke="#222" stroke-width="0.95"/>
<rect x="335.95" y="410.45" width="2.8" height="2.8" fill="none" stroke="#222" stroke-width="0.95"/>
<rect x="337.95" y="410.30" width="2.8" height="2.8" fill="none" stroke="#222" stroke-width="0.95"/>
<rect x="339.95" y="410.53" width="2.8" height="2.8" fill="none" stroke="#222" stroke-width="0.95"/>
<rect x="336.95" y="410.60" width="2.8" height="2.8" fill="none" stroke="#222" stroke-width="0.95"/>
<line x1="333.05" y1="412.30" x2="333.05" y2="414.50" stroke="#222" stroke-width="0.7"/>
<rect x="352.00" y="399.55" width="9.50" height="12.75" fill="#5874aa"/>
<line x1="356.75" y1="397.30" x2="356.75" y2="401.80" stroke="#222" stroke-width="0.9"/>
<line x1="354.55" y1="397.30" x2="358.95" y2="397.30" stroke="#222" stroke-width="0.9"/>
<line x1="354.55" y1="401.80" x2="358.95" y2="401.80" stroke="#222" stroke-width="0.9"/>
<circle cx="356.45" cy="394.38" r="1.45" fill="none" stroke="#222" stroke-width="0.95"/>
<circle cx="353.75" cy="400.53" r="1.45" fill="none" stroke="#222" stroke-width="0.95"/>
<circle cx="359.45" cy="401.73" r="1.45" fill="none" stroke="#222" stroke-width="0.95"/>
<circle cx="356.45" cy="399.55" r="1.45" fill="none" stroke="#222" stroke-width="0.95"/>
<circle cx="356.45" cy="404.80" r="1.45" fill="none" stroke="#222" stroke-width="0.95"/>
<rect x="362.50" y="406.30" width="9.50" height="6.00" fill="#df5a52"/>
<line x1="367.25" y1="404.80" x2="367.25" y2="407.80" stroke="#222" stroke-width="0.9"/>
<line x1="365.05" y1="404.80" x2="369.45" y2="404.80" stroke="#222" stroke-width="0.9"/>
<line x1="365.05" y1="407.80" x2="369.45" y2="407.80" stroke="#222" stroke-width="0.9"/>
<rect x="363.25" y="401.15" width="2.8" height="2.8" fill="none" stroke="#222" stroke-width="0.95"/>
<rect x="369.25" y="401.15" width="2.8" height="2.8" fill="none" stroke="#222" stroke-width="0.95"/>
<rect x="366.05" y="403.40" width="2.8" height="2.8" fill="none" stroke="#222" stroke-width="0.95"/>
<rect x="363.25" y="406.48" width="2.8" height="2.8" fill="none" stroke="#222" stroke-width="0.95"/>
<rect x="369.25" y="406.93" width="2.8" height="2.8" fill="none" stroke="#222" stroke-width="0.95"/>
<line x1="362.00" y1="412.30" x2="362.00" y2="414.50" stroke="#222" stroke-width="0.7"/>
<rect x="377.20" y="395.05" width="9.50" height="17.25" fill="#5874aa"/>
<line x1="381.95" y1="392.05" x2="381.95" y2="398.05" stroke="#222" stroke-width="0.9"/>
<line x1="379.75" y1="392.05" x2="384.15" y2="392.05" stroke="#222" stroke-width="0.9"/>
<line x1="379.75" y1="398.05" x2="384.15" y2="398.05" stroke="#222" stroke-width="0.9"/>
<circle cx="381.35" cy="388.07" r="1.45" fill="none" stroke="#222" stroke-width="0.95"/>
<circle cx="381.35" cy="392.73" r="1.45" fill="none" stroke="#222" stroke-width="0.95"/>
<circle cx="378.55" cy="397.90" r="1.45" fill="none" stroke="#222" stroke-width="0.95"/>
<circle cx="384.25" cy="396.55" r="1.45" fill="none" stroke="#222" stroke-width="0.95"/>
<circle cx="381.35" cy="401.05" r="1.45" fill="none" stroke="#222" stroke-width="0.95"/>
<rect x="387.90" y="402.93" width="9.50" height="9.38" fill="#df5a52"/>
<line x1="392.65" y1="401.05" x2="392.65" y2="404.80" stroke="#222" stroke-width="0.9"/>
<line x1="390.45" y1="401.05" x2="394.85" y2="401.05" stroke="#222" stroke-width="0.9"/>
<line x1="390.45" y1="404.80" x2="394.85" y2="404.80" stroke="#222" stroke-width="0.9"/>
<rect x="387.45" y="397.63" width="2.8" height="2.8" fill="none" stroke="#222" stroke-width="0.95"/>
<rect x="393.45" y="395.90" width="2.8" height="2.8" fill="none" stroke="#222" stroke-width="0.95"/>
<rect x="387.95" y="402.80" width="2.8" height="2.8" fill="none" stroke="#222" stroke-width="0.95"/>
<rect x="393.45" y="402.80" width="2.8" height="2.8" fill="none" stroke="#222" stroke-width="0.95"/>
<rect x="390.65" y="405.13" width="2.8" height="2.8" fill="none" stroke="#222" stroke-width="0.95"/>
<line x1="387.30" y1="412.30" x2="387.30" y2="414.50" stroke="#222" stroke-width="0.7"/>
<rect x="405.50" y="380.27" width="9.50" height="32.03" fill="#5874aa"/>
<line x1="410.25" y1="377.27" x2="410.25" y2="383.27" stroke="#222" stroke-width="0.9"/>
<line x1="408.05" y1="377.27" x2="412.45" y2="377.27" stroke="#222" stroke-width="0.9"/>
<line x1="408.05" y1="383.27" x2="412.45" y2="383.27" stroke="#222" stroke-width="0.9"/>
<circle cx="410.25" cy="369.33" r="1.45" fill="none" stroke="#222" stroke-width="0.95"/>
<circle cx="407.25" cy="382.68" r="1.45" fill="none" stroke="#222" stroke-width="0.95"/>
<circle cx="413.25" cy="382.68" r="1.45" fill="none" stroke="#222" stroke-width="0.95"/>
<circle cx="410.25" cy="379.83" r="1.45" fill="none" stroke="#222" stroke-width="0.95"/>
<circle cx="410.25" cy="386.88" r="1.45" fill="none" stroke="#222" stroke-width="0.95"/>
<rect x="416.10" y="405.18" width="9.50" height="7.12" fill="#df5a52"/>
<line x1="420.85" y1="404.05" x2="420.85" y2="406.30" stroke="#222" stroke-width="0.9"/>
<line x1="418.65" y1="404.05" x2="423.05" y2="404.05" stroke="#222" stroke-width="0.9"/>
<rect x="416.65" y="403.33" width="2.8" height="2.8" fill="none" stroke="#222" stroke-width="0.95"/>
<rect x="419.75" y="401.30" width="2.8" height="2.8" fill="none" stroke="#222" stroke-width="0.95"/>
<rect x="422.85" y="402.73" width="2.8" height="2.8" fill="none" stroke="#222" stroke-width="0.95"/>
<rect x="416.65" y="406.18" width="2.8" height="2.8" fill="none" stroke="#222" stroke-width="0.95"/>
<rect x="422.85" y="406.18" width="2.8" height="2.8" fill="none" stroke="#222" stroke-width="0.95"/>
<line x1="415.55" y1="412.30" x2="415.55" y2="414.50" stroke="#222" stroke-width="0.7"/>
<rect x="430.60" y="370.90" width="9.50" height="41.40" fill="#5874aa"/>
<line x1="435.35" y1="366.17" x2="435.35" y2="375.62" stroke="#222" stroke-width="0.9"/>
<line x1="433.15" y1="366.17" x2="437.55" y2="366.17" stroke="#222" stroke-width="0.9"/>
<line x1="433.15" y1="375.62" x2="437.55" y2="375.62" stroke="#222" stroke-width="0.9"/>
<circle cx="435.05" cy="358.60" r="1.45" fill="none" stroke="#222" stroke-width="0.95"/>
<circle cx="431.95" cy="367.30" r="1.45" fill="none" stroke="#222" stroke-width="0.95"/>
<circle cx="438.25" cy="367.30" r="1.45" fill="none" stroke="#222" stroke-width="0.95"/>
<circle cx="432.35" cy="381.78" r="1.45" fill="none" stroke="#222" stroke-width="0.95"/>
<circle cx="437.95" cy="380.20" r="1.45" fill="none" stroke="#222" stroke-width="0.95"/>
<rect x="441.20" y="385.07" width="9.50" height="27.23" fill="#df5a52"/>
<line x1="445.95" y1="382.00" x2="445.95" y2="388.15" stroke="#222" stroke-width="0.9"/>
<line x1="443.75" y1="382.00" x2="448.15" y2="382.00" stroke="#222" stroke-width="0.9"/>
<line x1="443.75" y1="388.15" x2="448.15" y2="388.15" stroke="#222" stroke-width="0.9"/>
<rect x="441.45" y="375.50" width="2.8" height="2.8" fill="none" stroke="#222" stroke-width="0.95"/>
<rect x="447.75" y="375.50" width="2.8" height="2.8" fill="none" stroke="#222" stroke-width="0.95"/>
<rect x="444.35" y="383.60" width="2.8" height="2.8" fill="none" stroke="#222" stroke-width="0.95"/>
<rect x="444.35" y="389.38" width="2.8" height="2.8" fill="none" stroke="#222" stroke-width="0.95"/>
<rect x="444.35" y="394.63" width="2.8" height="2.8" fill="none" stroke="#222" stroke-width="0.95"/>
<line x1="440.65" y1="412.30" x2="440.65" y2="414.50" stroke="#222" stroke-width="0.7"/>
<rect x="460.10" y="389.80" width="9.50" height="22.50" fill="#5874aa"/>
<line x1="464.85" y1="387.93" x2="464.85" y2="391.68" stroke="#222" stroke-width="0.9"/>
<line x1="462.65" y1="387.93" x2="467.05" y2="387.93" stroke="#222" stroke-width="0.9"/>
<line x1="462.65" y1="391.68" x2="467.05" y2="391.68" stroke="#222" stroke-width="0.9"/>
<circle cx="464.65" cy="385.82" r="1.45" fill="none" stroke="#222" stroke-width="0.95"/>
<circle cx="461.45" cy="391.00" r="1.45" fill="none" stroke="#222" stroke-width="0.95"/>
<circle cx="464.35" cy="391.00" r="1.45" fill="none" stroke="#222" stroke-width="0.95"/>
<circle cx="467.85" cy="391.00" r="1.45" fill="none" stroke="#222" stroke-width="0.95"/>
<circle cx="463.85" cy="395.20" r="1.45" fill="none" stroke="#222" stroke-width="0.95"/>
<rect x="470.60" y="403.68" width="9.50" height="8.62" fill="#df5a52"/>
<line x1="475.35" y1="401.05" x2="475.35" y2="406.30" stroke="#222" stroke-width="0.9"/>
<line x1="473.15" y1="401.05" x2="477.55" y2="401.05" stroke="#222" stroke-width="0.9"/>
<line x1="473.15" y1="406.30" x2="477.55" y2="406.30" stroke="#222" stroke-width="0.9"/>
<rect x="470.95" y="396.50" width="2.8" height="2.8" fill="none" stroke="#222" stroke-width="0.95"/>
<rect x="476.95" y="398.83" width="2.8" height="2.8" fill="none" stroke="#222" stroke-width="0.95"/>
<rect x="474.05" y="400.48" width="2.8" height="2.8" fill="none" stroke="#222" stroke-width="0.95"/>
<rect x="470.95" y="407.38" width="2.8" height="2.8" fill="none" stroke="#222" stroke-width="0.95"/>
<rect x="476.95" y="406.48" width="2.8" height="2.8" fill="none" stroke="#222" stroke-width="0.95"/>
<line x1="470.10" y1="412.30" x2="470.10" y2="414.50" stroke="#222" stroke-width="0.7"/>
<rect x="485.00" y="389.05" width="9.50" height="23.25" fill="#5874aa"/>
<line x1="489.75" y1="387.18" x2="489.75" y2="390.93" stroke="#222" stroke-width="0.9"/>
<line x1="487.55" y1="387.18" x2="491.95" y2="387.18" stroke="#222" stroke-width="0.9"/>
<line x1="487.55" y1="390.93" x2="491.95" y2="390.93" stroke="#222" stroke-width="0.9"/>
<circle cx="486.75" cy="385.82" r="1.45" fill="none" stroke="#222" stroke-width="0.95"/>
<circle cx="492.75" cy="386.28" r="1.45" fill="none" stroke="#222" stroke-width="0.95"/>
<circle cx="489.55" cy="388.07" r="1.45" fill="none" stroke="#222" stroke-width="0.95"/>
<circle cx="489.55" cy="391.00" r="1.45" fill="none" stroke="#222" stroke-width="0.95"/>
<circle cx="489.55" cy="393.78" r="1.45" fill="none" stroke="#222" stroke-width="0.95"/>
<rect x="495.60" y="398.50" width="9.50" height="13.80" fill="#df5a52"/>
<line x1="500.35" y1="396.25" x2="500.35" y2="400.75" stroke="#222" stroke-width="0.9"/>
<line x1="498.15" y1="396.25" x2="502.55" y2="396.25" stroke="#222" stroke-width="0.9"/>
<line x1="498.15" y1="400.75" x2="502.55" y2="400.75" stroke="#222" stroke-width="0.9"/>
<rect x="496.05" y="392.98" width="2.8" height="2.8" fill="none" stroke="#222" stroke-width="0.95"/>
<rect x="502.75" y="392.98" width="2.8" height="2.8" fill="none" stroke="#222" stroke-width="0.95"/>
<rect x="499.25" y="394.78" width="2.8" height="2.8" fill="none" stroke="#222" stroke-width="0.95"/>
<rect x="496.05" y="402.28" width="2.8" height="2.8" fill="none" stroke="#222" stroke-width="0.95"/>
<rect x="502.25" y="401.15" width="2.8" height="2.8" fill="none" stroke="#222" stroke-width="0.95"/>
<line x1="495.05" y1="412.30" x2="495.05" y2="414.50" stroke="#222" stroke-width="0.7"/>
<line x1="315.30" y1="412.30" x2="513.40" y2="412.30" stroke="#222" stroke-width="1.0"/>
<line x1="382.00" y1="381.10" x2="391.60" y2="381.10" stroke="#222" stroke-width="0.9"/>
<circle cx="386.80" cy="377.20" r="0.95" fill="#222"/>
<line x1="411.00" y1="363.20" x2="421.00" y2="363.20" stroke="#222" stroke-width="0.9"/>
<circle cx="413.20" cy="359.30" r="0.95" fill="#222"/>
<circle cx="416.00" cy="359.30" r="0.95" fill="#222"/>
<circle cx="418.80" cy="359.30" r="0.95" fill="#222"/>
<line x1="435.80" y1="351.60" x2="445.60" y2="351.60" stroke="#222" stroke-width="0.9"/>
<circle cx="440.70" cy="347.70" r="0.95" fill="#222"/>
<line x1="465.20" y1="379.60" x2="475.30" y2="379.60" stroke="#222" stroke-width="0.9"/>
<circle cx="467.45" cy="375.70" r="0.95" fill="#222"/>
<circle cx="470.25" cy="375.70" r="0.95" fill="#222"/>
<circle cx="473.05" cy="375.70" r="0.95" fill="#222"/>
<line x1="490.30" y1="379.60" x2="499.80" y2="379.60" stroke="#222" stroke-width="0.9"/>
<circle cx="493.65" cy="375.70" r="0.95" fill="#222"/>
<circle cx="496.45" cy="375.70" r="0.95" fill="#222"/>
<text text-anchor="middle" transform="translate(333.05 425.00) scale(1.12 1)">Resting</text>
<text text-anchor="middle" transform="translate(362.00 425.00) scale(1.12 1)">2.0</text>
<text text-anchor="middle" transform="translate(387.30 425.00) scale(1.12 1)">4.0</text>
<text text-anchor="middle" transform="translate(415.55 425.00) scale(1.12 1)">40.0</text>
<text text-anchor="middle" transform="translate(440.65 425.00) scale(1.12 1)">60.0</text>
<text text-anchor="middle" transform="translate(470.10 425.00) scale(1.12 1)">0.5</text>
<text text-anchor="middle" transform="translate(495.05 425.00) scale(1.12 1)">1.0</text>
<line x1="351.70" y1="429.60" x2="397.50" y2="429.60" stroke="#444" stroke-width="0.9"/>
<line x1="402.70" y1="429.60" x2="452.70" y2="429.60" stroke="#444" stroke-width="0.9"/>
<line x1="456.50" y1="429.60" x2="508.50" y2="429.60" stroke="#444" stroke-width="0.9"/>
<text text-anchor="middle" transform="translate(374.50 440.00) scale(1.12 1)">U46619 (μM)</text>
<text text-anchor="middle" transform="translate(374.50 449.60) scale(1.12 1)">+ ADP (10 μM)</text>
<text text-anchor="middle" transform="translate(428.00 440.00) scale(1.12 1)">PAR4-AP</text>
<text text-anchor="middle" transform="translate(428.00 449.60) scale(1.12 1)">(μM)</text>
<text text-anchor="middle" transform="translate(482.00 440.00) scale(1.12 1)">CRP</text>
<text text-anchor="middle" transform="translate(482.00 449.60) scale(1.12 1)">(μg/mL)</text>
<rect x="321.30" y="337.00" width="5.60" height="5.30" fill="#5874aa"/>
<text transform="translate(329.90 341.60) scale(1.0 1)">WT</text>
<rect x="321.30" y="348.00" width="5.60" height="5.30" fill="#df5a52"/>
<text transform="translate(329.90 352.80) scale(1.0 1)" font-size="7.0">10aa<tspan font-size="4.76" dy="-2.94" dx="0.3">−/−</tspan></text>
<text text-anchor="middle" font-size="7.6" transform="translate(282.40 377.30) rotate(-90) scale(0.83 1)" class="b">P-selectin-exposed</text>
<text text-anchor="middle" font-size="7.6" transform="translate(293.80 377.30) rotate(-90) scale(0.876 1)" class="b">platelets (%)</text>
<line x1="51.20" y1="489.05" x2="51.20" y2="558.60" stroke="#222" stroke-width="0.9"/>
<line x1="48.60" y1="558.20" x2="51.20" y2="558.20" stroke="#222" stroke-width="0.8"/>
<text text-anchor="end" font-size="7.3" transform="translate(45.20 560.65) scale(1.12 1)">0</text>
<line x1="48.60" y1="541.01" x2="51.20" y2="541.01" stroke="#222" stroke-width="0.8"/>
<text text-anchor="end" font-size="7.3" transform="translate(45.20 543.46) scale(1.12 1)">50</text>
<line x1="48.60" y1="523.83" x2="51.20" y2="523.83" stroke="#222" stroke-width="0.8"/>
<text text-anchor="end" font-size="7.3" transform="translate(45.20 526.28) scale(1.12 1)">100</text>
<line x1="48.60" y1="506.64" x2="51.20" y2="506.64" stroke="#222" stroke-width="0.8"/>
<text text-anchor="end" font-size="7.3" transform="translate(45.20 509.09) scale(1.12 1)">150</text>
<line x1="48.60" y1="489.45" x2="51.20" y2="489.45" stroke="#222" stroke-width="0.8"/>
<text text-anchor="end" font-size="7.3" transform="translate(45.20 491.90) scale(1.12 1)">200</text>
<rect x="61.30" y="523.83" width="12.50" height="34.38" fill="#5874aa"/>
<line x1="67.55" y1="520.04" x2="67.55" y2="527.61" stroke="#222" stroke-width="0.9"/>
<line x1="65.35" y1="520.04" x2="69.75" y2="520.04" stroke="#222" stroke-width="0.9"/>
<line x1="65.35" y1="527.61" x2="69.75" y2="527.61" stroke="#222" stroke-width="0.9"/>
<circle cx="68.05" cy="510.08" r="1.45" fill="none" stroke="#222" stroke-width="0.95"/>
<circle cx="62.75" cy="528.64" r="1.45" fill="none" stroke="#222" stroke-width="0.95"/>
<circle cx="68.05" cy="530.01" r="1.45" fill="none" stroke="#222" stroke-width="0.95"/>
<circle cx="72.15" cy="528.64" r="1.45" fill="none" stroke="#222" stroke-width="0.95"/>
<circle cx="68.05" cy="525.89" r="1.45" fill="none" stroke="#222" stroke-width="0.95"/>
<rect x="76.30" y="546.51" width="12.50" height="11.69" fill="#df5a52"/>
<line x1="82.55" y1="544.79" x2="82.55" y2="548.23" stroke="#222" stroke-width="0.9"/>
<line x1="80.35" y1="544.79" x2="84.75" y2="544.79" stroke="#222" stroke-width="0.9"/>
<line x1="80.35" y1="548.23" x2="84.75" y2="548.23" stroke="#222" stroke-width="0.9"/>
<rect x="76.35" y="541.33" width="2.8" height="2.8" fill="none" stroke="#222" stroke-width="0.95"/>
<rect x="81.15" y="538.24" width="2.8" height="2.8" fill="none" stroke="#222" stroke-width="0.95"/>
<rect x="86.15" y="541.33" width="2.8" height="2.8" fill="none" stroke="#222" stroke-width="0.95"/>
<rect x="81.15" y="543.39" width="2.8" height="2.8" fill="none" stroke="#222" stroke-width="0.95"/>
<rect x="81.15" y="556.46" width="2.8" height="2.8" fill="none" stroke="#222" stroke-width="0.95"/>
<line x1="75.05" y1="558.20" x2="75.05" y2="560.40" stroke="#222" stroke-width="0.7"/>
<rect x="99.50" y="523.83" width="12.50" height="34.38" fill="#5874aa"/>
<line x1="105.75" y1="516.26" x2="105.75" y2="531.39" stroke="#222" stroke-width="0.9"/>
<line x1="103.55" y1="516.26" x2="107.95" y2="516.26" stroke="#222" stroke-width="0.9"/>
<line x1="103.55" y1="531.39" x2="107.95" y2="531.39" stroke="#222" stroke-width="0.9"/>
<circle cx="105.75" cy="509.39" r="1.45" fill="none" stroke="#222" stroke-width="0.95"/>
<circle cx="105.75" cy="513.86" r="1.45" fill="none" stroke="#222" stroke-width="0.95"/>
<circle cx="105.75" cy="517.98" r="1.45" fill="none" stroke="#222" stroke-width="0.95"/>
<circle cx="102.35" cy="540.33" r="1.45" fill="none" stroke="#222" stroke-width="0.95"/>
<circle cx="109.15" cy="538.61" r="1.45" fill="none" stroke="#222" stroke-width="0.95"/>
<rect x="114.50" y="548.92" width="12.50" height="9.28" fill="#df5a52"/>
<line x1="120.75" y1="547.20" x2="120.75" y2="550.64" stroke="#222" stroke-width="0.9"/>
<line x1="118.55" y1="547.20" x2="122.95" y2="547.20" stroke="#222" stroke-width="0.9"/>
<line x1="118.55" y1="550.64" x2="122.95" y2="550.64" stroke="#222" stroke-width="0.9"/>
<rect x="114.85" y="543.74" width="2.8" height="2.8" fill="none" stroke="#222" stroke-width="0.95"/>
<rect x="119.85" y="547.18" width="2.8" height="2.8" fill="none" stroke="#222" stroke-width="0.95"/>
<rect x="124.05" y="543.74" width="2.8" height="2.8" fill="none" stroke="#222" stroke-width="0.95"/>
<rect x="119.85" y="545.11" width="2.8" height="2.8" fill="none" stroke="#222" stroke-width="0.95"/>
<rect x="119.85" y="556.46" width="2.8" height="2.8" fill="none" stroke="#222" stroke-width="0.95"/>
<line x1="113.25" y1="558.20" x2="113.25" y2="560.40" stroke="#222" stroke-width="0.7"/>
<rect x="136.90" y="523.83" width="12.50" height="34.38" fill="#5874aa"/>
<line x1="143.15" y1="515.92" x2="143.15" y2="531.73" stroke="#222" stroke-width="0.9"/>
<line x1="140.95" y1="515.92" x2="145.35" y2="515.92" stroke="#222" stroke-width="0.9"/>
<line x1="140.95" y1="531.73" x2="145.35" y2="531.73" stroke="#222" stroke-width="0.9"/>
<circle cx="143.15" cy="500.45" r="1.45" fill="none" stroke="#222" stroke-width="0.95"/>
<circle cx="143.15" cy="513.17" r="1.45" fill="none" stroke="#222" stroke-width="0.95"/>
<circle cx="143.15" cy="524.51" r="1.45" fill="none" stroke="#222" stroke-width="0.95"/>
<circle cx="139.65" cy="542.04" r="1.45" fill="none" stroke="#222" stroke-width="0.95"/>
<circle cx="146.65" cy="539.98" r="1.45" fill="none" stroke="#222" stroke-width="0.95"/>
<rect x="151.90" y="553.73" width="12.50" height="4.47" fill="#df5a52"/>
<line x1="158.15" y1="549.61" x2="158.15" y2="557.70" stroke="#222" stroke-width="0.9"/>
<line x1="155.95" y1="549.61" x2="160.35" y2="549.61" stroke="#222" stroke-width="0.9"/>
<line x1="155.95" y1="557.70" x2="160.35" y2="557.70" stroke="#222" stroke-width="0.9"/>
<rect x="157.75" y="536.52" width="2.8" height="2.8" fill="none" stroke="#222" stroke-width="0.95"/>
<rect x="152.75" y="554.74" width="2.8" height="2.8" fill="none" stroke="#222" stroke-width="0.95"/>
<rect x="156.75" y="555.08" width="2.8" height="2.8" fill="none" stroke="#222" stroke-width="0.95"/>
<rect x="160.75" y="554.74" width="2.8" height="2.8" fill="none" stroke="#222" stroke-width="0.95"/>
<rect x="156.75" y="555.77" width="2.8" height="2.8" fill="none" stroke="#222" stroke-width="0.95"/>
<line x1="150.65" y1="558.20" x2="150.65" y2="560.40" stroke="#222" stroke-width="0.7"/>
<line x1="51.20" y1="558.20" x2="175.60" y2="558.20" stroke="#222" stroke-width="1.0"/>
<line x1="67.50" y1="503.70" x2="82.50" y2="503.70" stroke="#222" stroke-width="0.9"/>
<circle cx="73.60" cy="499.80" r="0.95" fill="#222"/>
<circle cx="76.40" cy="499.80" r="0.95" fill="#222"/>
<line x1="105.00" y1="503.70" x2="120.50" y2="503.70" stroke="#222" stroke-width="0.9"/>
<circle cx="111.35" cy="499.80" r="0.95" fill="#222"/>
<circle cx="114.15" cy="499.80" r="0.95" fill="#222"/>
<line x1="143.80" y1="494.40" x2="159.10" y2="494.40" stroke="#222" stroke-width="0.9"/>
<circle cx="151.45" cy="490.50" r="0.95" fill="#222"/>
<rect x="178.10" y="514.50" width="5.60" height="5.30" fill="#5874aa"/>
<text font-size="7.4" transform="translate(186.70 519.10) scale(1.0 1)">WT</text>
<rect x="178.10" y="525.50" width="5.60" height="5.30" fill="#df5a52"/>
<text transform="translate(186.70 530.30) scale(1.0 1)" font-size="7.4">10aa<tspan font-size="5.03" dy="-3.11" dx="0.3">−/−</tspan></text>
<text text-anchor="end" font-size="7.5" transform="translate(75.40 567.60) rotate(-45) scale(1.06 1)">U46619</text>
<text text-anchor="end" font-size="7.5" transform="translate(112.60 567.60) rotate(-45) scale(1.06 1)">PAR4-AP</text>
<text text-anchor="end" font-size="7.5" transform="translate(152.40 568.40) rotate(-45) scale(1.06 1)">Collagen</text>
<text text-anchor="middle" font-size="7.6" transform="translate(26.00 522.50) rotate(-90) scale(0.873 1)" class="b">ATP release (% of WT)</text>
<line x1="315.20" y1="489.60" x2="315.20" y2="558.60" stroke="#222" stroke-width="0.9"/>
<line x1="312.60" y1="558.20" x2="315.20" y2="558.20" stroke="#222" stroke-width="0.8"/>
<text text-anchor="end" transform="translate(309.00 560.65) scale(1.12 1)">0</text>
<line x1="312.60" y1="544.56" x2="315.20" y2="544.56" stroke="#222" stroke-width="0.8"/>
<text text-anchor="end" transform="translate(309.00 547.01) scale(1.12 1)">10</text>
<line x1="312.60" y1="530.92" x2="315.20" y2="530.92" stroke="#222" stroke-width="0.8"/>
<text text-anchor="end" transform="translate(309.00 533.37) scale(1.12 1)">20</text>
<line x1="312.60" y1="517.28" x2="315.20" y2="517.28" stroke="#222" stroke-width="0.8"/>
<text text-anchor="end" transform="translate(309.00 519.73) scale(1.12 1)">30</text>
<line x1="312.60" y1="503.64" x2="315.20" y2="503.64" stroke="#222" stroke-width="0.8"/>
<text text-anchor="end" transform="translate(309.00 506.09) scale(1.12 1)">40</text>
<line x1="312.60" y1="490.00" x2="315.20" y2="490.00" stroke="#222" stroke-width="0.8"/>
<text text-anchor="end" transform="translate(309.00 492.45) scale(1.12 1)">50</text>
<rect x="322.70" y="556.84" width="9.80" height="1.36" fill="#5874aa"/>
<line x1="327.60" y1="556.43" x2="327.60" y2="557.25" stroke="#222" stroke-width="0.9"/>
<line x1="325.40" y1="556.43" x2="329.80" y2="556.43" stroke="#222" stroke-width="0.9"/>
<circle cx="324.60" cy="556.15" r="1.45" fill="none" stroke="#222" stroke-width="0.95"/>
<circle cx="326.60" cy="557.11" r="1.45" fill="none" stroke="#222" stroke-width="0.95"/>
<circle cx="328.60" cy="556.56" r="1.45" fill="none" stroke="#222" stroke-width="0.95"/>
<circle cx="330.60" cy="557.38" r="1.45" fill="none" stroke="#222" stroke-width="0.95"/>
<circle cx="327.60" cy="557.65" r="1.45" fill="none" stroke="#222" stroke-width="0.95"/>
<rect x="333.20" y="556.84" width="9.80" height="1.36" fill="#df5a52"/>
<line x1="338.10" y1="556.43" x2="338.10" y2="557.25" stroke="#222" stroke-width="0.9"/>
<line x1="335.90" y1="556.43" x2="340.30" y2="556.43" stroke="#222" stroke-width="0.9"/>
<rect x="333.70" y="555.57" width="2.8" height="2.8" fill="none" stroke="#222" stroke-width="0.95"/>
<rect x="335.70" y="556.12" width="2.8" height="2.8" fill="none" stroke="#222" stroke-width="0.95"/>
<rect x="337.70" y="555.71" width="2.8" height="2.8" fill="none" stroke="#222" stroke-width="0.95"/>
<rect x="339.70" y="556.25" width="2.8" height="2.8" fill="none" stroke="#222" stroke-width="0.95"/>
<rect x="336.70" y="556.39" width="2.8" height="2.8" fill="none" stroke="#222" stroke-width="0.95"/>
<line x1="332.85" y1="558.20" x2="332.85" y2="560.40" stroke="#222" stroke-width="0.7"/>
<rect x="351.20" y="549.74" width="9.80" height="8.46" fill="#5874aa"/>
<line x1="356.10" y1="548.38" x2="356.10" y2="551.11" stroke="#222" stroke-width="0.9"/>
<line x1="353.90" y1="548.38" x2="358.30" y2="548.38" stroke="#222" stroke-width="0.9"/>
<line x1="353.90" y1="551.11" x2="358.30" y2="551.11" stroke="#222" stroke-width="0.9"/>
<circle cx="352.50" cy="548.11" r="1.45" fill="none" stroke="#222" stroke-width="0.95"/>
<circle cx="356.50" cy="549.47" r="1.45" fill="none" stroke="#222" stroke-width="0.95"/>
<circle cx="358.80" cy="550.15" r="1.45" fill="none" stroke="#222" stroke-width="0.95"/>
<circle cx="352.50" cy="552.06" r="1.45" fill="none" stroke="#222" stroke-width="0.95"/>
<circle cx="358.80" cy="552.06" r="1.45" fill="none" stroke="#222" stroke-width="0.95"/>
<rect x="362.30" y="552.74" width="9.80" height="5.46" fill="#df5a52"/>
<line x1="367.20" y1="551.93" x2="367.20" y2="553.56" stroke="#222" stroke-width="0.9"/>
<line x1="365.00" y1="551.93" x2="369.40" y2="551.93" stroke="#222" stroke-width="0.9"/>
<rect x="362.80" y="551.34" width="2.8" height="2.8" fill="none" stroke="#222" stroke-width="0.95"/>
<rect x="365.80" y="550.93" width="2.8" height="2.8" fill="none" stroke="#222" stroke-width="0.95"/>
<rect x="368.80" y="551.34" width="2.8" height="2.8" fill="none" stroke="#222" stroke-width="0.95"/>
<rect x="363.80" y="552.98" width="2.8" height="2.8" fill="none" stroke="#222" stroke-width="0.95"/>
<rect x="367.80" y="552.98" width="2.8" height="2.8" fill="none" stroke="#222" stroke-width="0.95"/>
<line x1="361.65" y1="558.20" x2="361.65" y2="560.40" stroke="#222" stroke-width="0.7"/>
<rect x="376.00" y="547.56" width="9.80" height="10.64" fill="#5874aa"/>
<line x1="380.90" y1="545.92" x2="380.90" y2="549.20" stroke="#222" stroke-width="0.9"/>
<line x1="378.70" y1="545.92" x2="383.10" y2="545.92" stroke="#222" stroke-width="0.9"/>
<line x1="378.70" y1="549.20" x2="383.10" y2="549.20" stroke="#222" stroke-width="0.9"/>
<circle cx="378.30" cy="545.79" r="1.45" fill="none" stroke="#222" stroke-width="0.95"/>
<circle cx="384.60" cy="546.33" r="1.45" fill="none" stroke="#222" stroke-width="0.95"/>
<circle cx="381.20" cy="547.56" r="1.45" fill="none" stroke="#222" stroke-width="0.95"/>
<circle cx="378.30" cy="549.74" r="1.45" fill="none" stroke="#222" stroke-width="0.95"/>
<circle cx="384.60" cy="549.74" r="1.45" fill="none" stroke="#222" stroke-width="0.95"/>
<rect x="387.00" y="550.97" width="9.80" height="7.23" fill="#df5a52"/>
<line x1="391.90" y1="549.88" x2="391.90" y2="552.06" stroke="#222" stroke-width="0.9"/>
<line x1="389.70" y1="549.88" x2="394.10" y2="549.88" stroke="#222" stroke-width="0.9"/>
<rect x="387.50" y="549.57" width="2.8" height="2.8" fill="none" stroke="#222" stroke-width="0.95"/>
<rect x="390.50" y="548.89" width="2.8" height="2.8" fill="none" stroke="#222" stroke-width="0.95"/>
<rect x="393.50" y="549.57" width="2.8" height="2.8" fill="none" stroke="#222" stroke-width="0.95"/>
<rect x="388.50" y="552.03" width="2.8" height="2.8" fill="none" stroke="#222" stroke-width="0.95"/>
<rect x="392.50" y="552.03" width="2.8" height="2.8" fill="none" stroke="#222" stroke-width="0.95"/>
<line x1="386.40" y1="558.20" x2="386.40" y2="560.40" stroke="#222" stroke-width="0.7"/>
<rect x="405.00" y="537.06" width="9.80" height="21.14" fill="#5874aa"/>
<line x1="409.90" y1="533.38" x2="409.90" y2="540.74" stroke="#222" stroke-width="0.9"/>
<line x1="407.70" y1="533.38" x2="412.10" y2="533.38" stroke="#222" stroke-width="0.9"/>
<line x1="407.70" y1="540.74" x2="412.10" y2="540.74" stroke="#222" stroke-width="0.9"/>
<circle cx="407.30" cy="527.92" r="1.45" fill="none" stroke="#222" stroke-width="0.95"/>
<circle cx="413.30" cy="529.01" r="1.45" fill="none" stroke="#222" stroke-width="0.95"/>
<circle cx="407.30" cy="539.38" r="1.45" fill="none" stroke="#222" stroke-width="0.95"/>
<circle cx="413.30" cy="539.38" r="1.45" fill="none" stroke="#222" stroke-width="0.95"/>
<circle cx="410.20" cy="549.74" r="1.45" fill="none" stroke="#222" stroke-width="0.95"/>
<rect x="416.10" y="551.52" width="9.80" height="6.68" fill="#df5a52"/>
<line x1="421.00" y1="548.92" x2="421.00" y2="554.11" stroke="#222" stroke-width="0.9"/>
<line x1="418.80" y1="548.92" x2="423.20" y2="548.92" stroke="#222" stroke-width="0.9"/>
<line x1="418.80" y1="554.11" x2="423.20" y2="554.11" stroke="#222" stroke-width="0.9"/>
<rect x="419.60" y="540.70" width="2.8" height="2.8" fill="none" stroke="#222" stroke-width="0.95"/>
<rect x="416.60" y="552.16" width="2.8" height="2.8" fill="none" stroke="#222" stroke-width="0.95"/>
<rect x="419.60" y="551.07" width="2.8" height="2.8" fill="none" stroke="#222" stroke-width="0.95"/>
<rect x="422.60" y="552.16" width="2.8" height="2.8" fill="none" stroke="#222" stroke-width="0.95"/>
<rect x="419.60" y="553.66" width="2.8" height="2.8" fill="none" stroke="#222" stroke-width="0.95"/>
<line x1="415.45" y1="558.20" x2="415.45" y2="560.40" stroke="#222" stroke-width="0.7"/>
<rect x="430.20" y="515.23" width="9.80" height="42.97" fill="#5874aa"/>
<line x1="435.10" y1="510.32" x2="435.10" y2="520.14" stroke="#222" stroke-width="0.9"/>
<line x1="432.90" y1="510.32" x2="437.30" y2="510.32" stroke="#222" stroke-width="0.9"/>
<line x1="432.90" y1="520.14" x2="437.30" y2="520.14" stroke="#222" stroke-width="0.9"/>
<circle cx="434.60" cy="506.37" r="1.45" fill="none" stroke="#222" stroke-width="0.95"/>
<circle cx="434.60" cy="510.05" r="1.45" fill="none" stroke="#222" stroke-width="0.95"/>
<circle cx="431.40" cy="516.87" r="1.45" fill="none" stroke="#222" stroke-width="0.95"/>
<circle cx="437.80" cy="516.87" r="1.45" fill="none" stroke="#222" stroke-width="0.95"/>
<circle cx="434.60" cy="541.15" r="1.45" fill="none" stroke="#222" stroke-width="0.95"/>
<rect x="441.00" y="534.74" width="9.80" height="23.46" fill="#df5a52"/>
<line x1="445.90" y1="531.33" x2="445.90" y2="538.15" stroke="#222" stroke-width="0.9"/>
<line x1="443.70" y1="531.33" x2="448.10" y2="531.33" stroke="#222" stroke-width="0.9"/>
<line x1="443.70" y1="538.15" x2="448.10" y2="538.15" stroke="#222" stroke-width="0.9"/>
<rect x="443.50" y="521.34" width="2.8" height="2.8" fill="none" stroke="#222" stroke-width="0.95"/>
<rect x="443.50" y="527.61" width="2.8" height="2.8" fill="none" stroke="#222" stroke-width="0.95"/>
<rect x="443.50" y="534.57" width="2.8" height="2.8" fill="none" stroke="#222" stroke-width="0.95"/>
<rect x="443.50" y="540.70" width="2.8" height="2.8" fill="none" stroke="#222" stroke-width="0.95"/>
<rect x="443.50" y="544.39" width="2.8" height="2.8" fill="none" stroke="#222" stroke-width="0.95"/>
<line x1="440.50" y1="558.20" x2="440.50" y2="560.40" stroke="#222" stroke-width="0.7"/>
<rect x="458.80" y="528.06" width="9.80" height="30.14" fill="#5874aa"/>
<line x1="463.70" y1="522.46" x2="463.70" y2="533.65" stroke="#222" stroke-width="0.9"/>
<line x1="461.50" y1="522.46" x2="465.90" y2="522.46" stroke="#222" stroke-width="0.9"/>
<line x1="461.50" y1="533.65" x2="465.90" y2="533.65" stroke="#222" stroke-width="0.9"/>
<circle cx="463.90" cy="510.60" r="1.45" fill="none" stroke="#222" stroke-width="0.95"/>
<circle cx="463.90" cy="519.19" r="1.45" fill="none" stroke="#222" stroke-width="0.95"/>
<circle cx="460.70" cy="532.56" r="1.45" fill="none" stroke="#222" stroke-width="0.95"/>
<circle cx="466.70" cy="535.56" r="1.45" fill="none" stroke="#222" stroke-width="0.95"/>
<circle cx="463.90" cy="542.92" r="1.45" fill="none" stroke="#222" stroke-width="0.95"/>
<rect x="469.80" y="550.15" width="9.80" height="8.05" fill="#df5a52"/>
<line x1="474.70" y1="545.79" x2="474.70" y2="554.52" stroke="#222" stroke-width="0.9"/>
<line x1="472.50" y1="545.79" x2="476.90" y2="545.79" stroke="#222" stroke-width="0.9"/>
<line x1="472.50" y1="554.52" x2="476.90" y2="554.52" stroke="#222" stroke-width="0.9"/>
<rect x="473.30" y="533.07" width="2.8" height="2.8" fill="none" stroke="#222" stroke-width="0.95"/>
<rect x="470.30" y="550.66" width="2.8" height="2.8" fill="none" stroke="#222" stroke-width="0.95"/>
<rect x="473.30" y="549.30" width="2.8" height="2.8" fill="none" stroke="#222" stroke-width="0.95"/>
<rect x="476.30" y="550.66" width="2.8" height="2.8" fill="none" stroke="#222" stroke-width="0.95"/>
<rect x="473.30" y="553.39" width="2.8" height="2.8" fill="none" stroke="#222" stroke-width="0.95"/>
<line x1="469.20" y1="558.20" x2="469.20" y2="560.40" stroke="#222" stroke-width="0.7"/>
<rect x="484.20" y="525.87" width="9.80" height="32.33" fill="#5874aa"/>
<line x1="489.10" y1="519.46" x2="489.10" y2="532.28" stroke="#222" stroke-width="0.9"/>
<line x1="486.90" y1="519.46" x2="491.30" y2="519.46" stroke="#222" stroke-width="0.9"/>
<line x1="486.90" y1="532.28" x2="491.30" y2="532.28" stroke="#222" stroke-width="0.9"/>
<circle cx="485.70" cy="510.60" r="1.45" fill="none" stroke="#222" stroke-width="0.95"/>
<circle cx="491.80" cy="511.69" r="1.45" fill="none" stroke="#222" stroke-width="0.95"/>
<circle cx="488.80" cy="527.92" r="1.45" fill="none" stroke="#222" stroke-width="0.95"/>
<circle cx="488.80" cy="537.06" r="1.45" fill="none" stroke="#222" stroke-width="0.95"/>
<circle cx="488.80" cy="542.24" r="1.45" fill="none" stroke="#222" stroke-width="0.95"/>
<rect x="495.00" y="545.79" width="9.80" height="12.41" fill="#df5a52"/>
<line x1="499.90" y1="540.60" x2="499.90" y2="550.97" stroke="#222" stroke-width="0.9"/>
<line x1="497.70" y1="540.60" x2="502.10" y2="540.60" stroke="#222" stroke-width="0.9"/>
<line x1="497.70" y1="550.97" x2="502.10" y2="550.97" stroke="#222" stroke-width="0.9"/>
<rect x="497.90" y="524.75" width="2.8" height="2.8" fill="none" stroke="#222" stroke-width="0.95"/>
<rect x="495.50" y="547.66" width="2.8" height="2.8" fill="none" stroke="#222" stroke-width="0.95"/>
<rect x="498.50" y="545.62" width="2.8" height="2.8" fill="none" stroke="#222" stroke-width="0.95"/>
<rect x="501.50" y="547.66" width="2.8" height="2.8" fill="none" stroke="#222" stroke-width="0.95"/>
<rect x="498.50" y="550.12" width="2.8" height="2.8" fill="none" stroke="#222" stroke-width="0.95"/>
<line x1="494.50" y1="558.20" x2="494.50" y2="560.40" stroke="#222" stroke-width="0.7"/>
<line x1="315.20" y1="558.20" x2="513.40" y2="558.20" stroke="#222" stroke-width="1.0"/>
<line x1="356.40" y1="541.70" x2="367.10" y2="541.70" stroke="#222" stroke-width="0.9"/>
<circle cx="361.75" cy="537.80" r="0.95" fill="#222"/>
<line x1="381.50" y1="538.30" x2="392.50" y2="538.30" stroke="#222" stroke-width="0.9"/>
<circle cx="385.60" cy="534.40" r="0.95" fill="#222"/>
<circle cx="388.40" cy="534.40" r="0.95" fill="#222"/>
<line x1="410.40" y1="521.80" x2="421.30" y2="521.80" stroke="#222" stroke-width="0.9"/>
<circle cx="415.85" cy="517.90" r="0.95" fill="#222"/>
<line x1="435.80" y1="500.80" x2="446.40" y2="500.80" stroke="#222" stroke-width="0.9"/>
<circle cx="439.70" cy="496.90" r="0.95" fill="#222"/>
<circle cx="442.50" cy="496.90" r="0.95" fill="#222"/>
<line x1="463.70" y1="505.10" x2="474.70" y2="505.10" stroke="#222" stroke-width="0.9"/>
<circle cx="469.20" cy="501.20" r="0.95" fill="#222"/>
<line x1="488.80" y1="505.10" x2="499.80" y2="505.10" stroke="#222" stroke-width="0.9"/>
<circle cx="494.30" cy="501.20" r="0.95" fill="#222"/>
<text text-anchor="middle" transform="translate(332.85 570.70) scale(1.12 1)">Resting</text>
<text text-anchor="middle" transform="translate(361.65 570.70) scale(1.12 1)">2.0</text>
<text text-anchor="middle" transform="translate(386.40 570.70) scale(1.12 1)">4.0</text>
<text text-anchor="middle" transform="translate(415.45 570.70) scale(1.12 1)">40.0</text>
<text text-anchor="middle" transform="translate(440.50 570.70) scale(1.12 1)">60.0</text>
<text text-anchor="middle" transform="translate(469.20 570.70) scale(1.12 1)">0.5</text>
<text text-anchor="middle" transform="translate(494.50 570.70) scale(1.12 1)">1.0</text>
<line x1="351.00" y1="576.60" x2="398.80" y2="576.60" stroke="#444" stroke-width="0.9"/>
<line x1="403.20" y1="576.60" x2="450.80" y2="576.60" stroke="#444" stroke-width="0.9"/>
<line x1="458.00" y1="576.60" x2="505.60" y2="576.60" stroke="#444" stroke-width="0.9"/>
<text text-anchor="middle" transform="translate(375.00 586.00) scale(1.12 1)">U46619 (μM)</text>
<text text-anchor="middle" transform="translate(375.00 595.40) scale(1.12 1)">+ ADP (10 μM)</text>
<text text-anchor="middle" transform="translate(426.80 586.00) scale(1.12 1)">PAR4-AP</text>
<text text-anchor="middle" transform="translate(426.80 595.40) scale(1.12 1)">(μM)</text>
<text text-anchor="middle" transform="translate(482.00 586.00) scale(1.12 1)">CRP</text>
<text text-anchor="middle" transform="translate(482.00 595.40) scale(1.12 1)">(μg/mL)</text>
<rect x="321.40" y="482.90" width="5.60" height="5.30" fill="#5874aa"/>
<text transform="translate(330.00 487.50) scale(1.0 1)">WT</text>
<rect x="321.40" y="493.90" width="5.60" height="5.30" fill="#df5a52"/>
<text transform="translate(330.00 498.70) scale(1.0 1)" font-size="7.0">10aa<tspan font-size="4.76" dy="-2.94" dx="0.3">−/−</tspan></text>
<text text-anchor="middle" font-size="7.6" transform="translate(282.50 523.30) rotate(-90) scale(0.865 1)" class="b">PS externalized</text>
<text text-anchor="middle" font-size="7.6" transform="translate(293.80 523.50) rotate(-90) scale(0.912 1)" class="b">platelets (%)</text>
<rect x="0.00" y="0.00" width="520.00" height="1.10" fill="#555"/>
<rect x="0.00" y="0.00" width="1.10" height="604.00" fill="#555"/>
<rect x="0.00" y="602.70" width="520.00" height="1.30" fill="#444"/>
<rect x="518.70" y="0.00" width="1.30" height="604.00" fill="#555"/>
</g>
</svg></body></html>
